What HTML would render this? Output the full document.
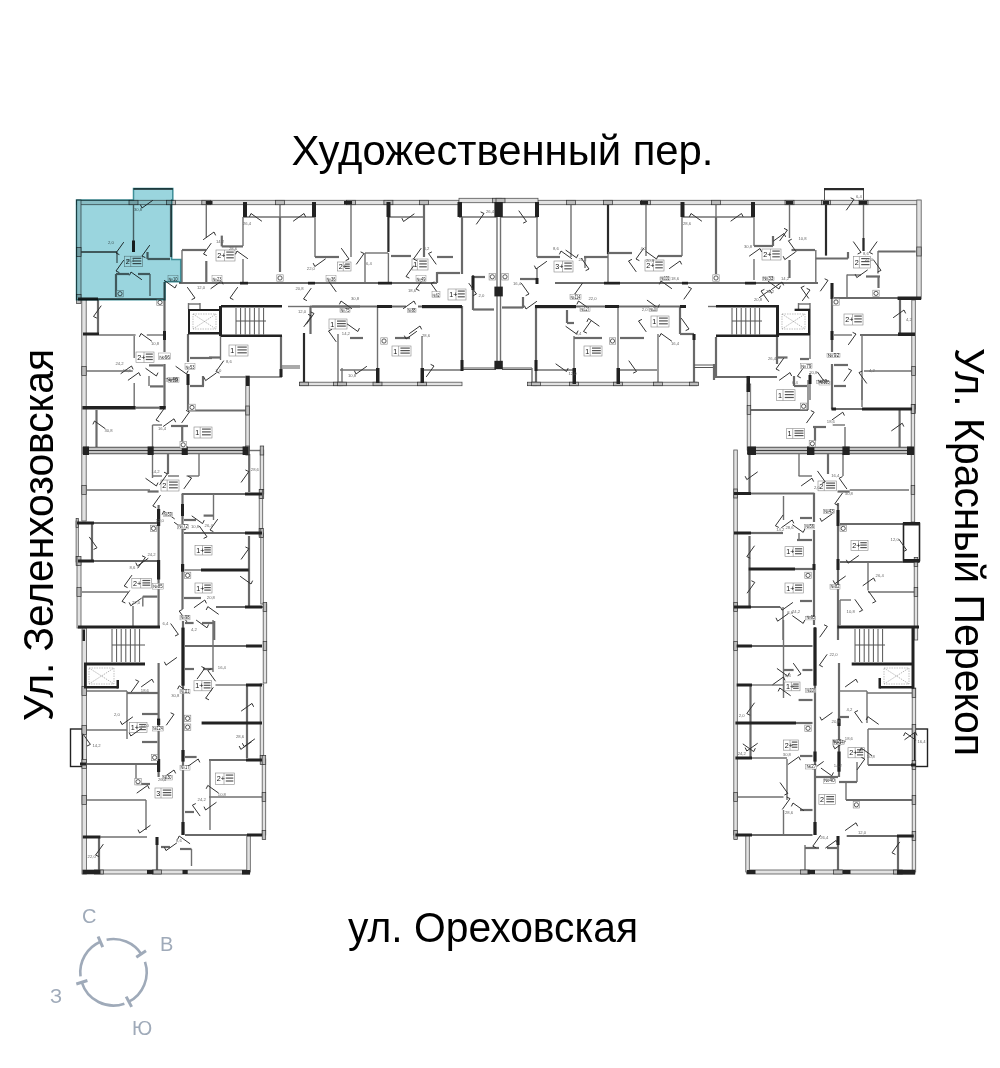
<!DOCTYPE html>
<html><head><meta charset="utf-8">
<style>
html,body{margin:0;padding:0;background:#fff;width:1000px;height:1068px;overflow:hidden}
svg{position:absolute;left:0;top:0;display:block}
text{font-family:"Liberation Sans",sans-serif}
.lbl{font-size:42.5px;fill:#000}
.cmp{font-size:20px;fill:#9FAAB9}
.o{fill:#e2e2e2;stroke:#555;stroke-width:0.8}
.pr{fill:#bdbdbd;stroke:#333;stroke-width:0.7}
.w{stroke:#6a6a6a;stroke-width:2.2;fill:none}
.p{stroke:#707070;stroke-width:1.4;fill:none}
.d{stroke:#2a2a2a;stroke-width:2.2;fill:none}
.t{stroke:#555;stroke-width:1;fill:none}
.x{stroke:#888;stroke-width:0.6;fill:none;stroke-dasharray:1.5 1}
.k{fill:#222}
#bld rect.o{fill:#e2e2e2}
#bld rect.lb{fill:#fff;stroke:#888;stroke-width:0.6}
#bld rect.no{fill:none;stroke:#888;stroke-width:0.6}
.dr{fill:none;stroke:#333;stroke-width:0.8}
.n{font-size:7.2px;fill:#111}
.a{font-size:4.2px;fill:#666}
#bld rect.nb{fill:#fff;stroke:#777;stroke-width:0.4}
.nt{font-size:4.6px;fill:#222}
</style></head><body>
<svg width="1000" height="1068" viewBox="0 0 1000 1068">
<!-- street labels -->
<text class="lbl" x="291.5" y="165" textLength="422" lengthAdjust="spacingAndGlyphs">Художественный пер.</text>
<text class="lbl" x="348" y="942" textLength="290" lengthAdjust="spacingAndGlyphs">ул. Ореховская</text>
<text class="lbl" transform="translate(52.5,721) rotate(-90)" x="0" y="0" textLength="372" lengthAdjust="spacingAndGlyphs">Ул. Зеленхозовская</text>
<text class="lbl" transform="translate(955,348) rotate(90)" x="0" y="0" textLength="408" lengthAdjust="spacingAndGlyphs">Ул. Красный Перекоп</text>

<!-- compass -->
<g fill="none" stroke="#9FAAB9" stroke-width="2.6">
<path d="M106.6 939.8 A33.2 33.2 0 0 1 141.2 954.0"/>
<path d="M136.3 957.2 L146.0 950.8" stroke-width="3"/>
<path d="M145.0 961.8 A33.2 33.2 0 0 1 128.9 1001.7"/>
<path d="M126.2 996.6 L131.6 1006.9" stroke-width="3"/>
<path d="M124.4 1003.7 A33.2 33.2 0 0 1 81.8 982.3"/>
<path d="M87.4 980.5 L76.3 984.0" stroke-width="3"/>
<path d="M80.5 976.3 A33.2 33.2 0 0 1 100.4 941.8"/>
<path d="M102.7 947.1 L98.1 936.5" stroke-width="3"/>
</g>
<text class="cmp" x="82" y="923">С</text>
<text class="cmp" x="160" y="951">В</text>
<text class="cmp" x="50" y="1003">З</text>
<text class="cmp" x="132" y="1035">Ю</text>

<!-- highlighted apartment -->


<!-- building -->
<g id="bld">
<rect class="o" x="76.5" y="200.3" width="382.5" height="4.4"/>
<rect class="o" x="538.0" y="200.3" width="382.0" height="4.4"/>
<rect class="o" x="459.0" y="198.3" width="79.0" height="4.4"/>
<path class="t" d="M824.5 188.6L824.5 200"/>
<path class="t" d="M863.5 188.6L863.5 200"/>
<path class="d" d="M824 189.2L864 189.2"/>
<path class="w" d="M133.5 189L172.8 189"/>
<path class="p" d="M243 217L315 217"/>
<path class="p" d="M280 203L280 217"/>
<path class="p" d="M388 217L424 217"/>
<path class="p" d="M459 217L497 217"/>
<path class="p" d="M500.5 217L538 217"/>
<path class="p" d="M682 217L754 217"/>
<path class="p" d="M716 203L716 217"/>
<rect class="o" x="76.6" y="200.0" width="4.4" height="99.0"/>
<path class="p" d="M133.5 205L133.5 252"/>
<path class="w" d="M81 252L117 252"/>
<path class="p" d="M117 252L117 263"/>
<path class="w" d="M147.5 252L147.5 259"/>
<path class="w" d="M147.5 259L170 259"/>
<path class="w" d="M116 274L116 297"/>
<path class="w" d="M116 274L129 274"/>
<path class="w" d="M138 274L150 274"/>
<path class="p" d="M150 274L150 296"/>
<path class="w" d="M76.5 299L165 299"/>
<path class="w" d="M171 200L171 257"/>
<path class="w" d="M182 250L206 250"/>
<path class="p" d="M182 250L182 283"/>
<path class="p" d="M206.3 205L206.3 237.7"/>
<path class="w" d="M206.3 261L206.3 283"/>
<path class="w" d="M221.8 235.6L221.8 246.4"/>
<path class="w" d="M221.8 246.4L243 246.4"/>
<path class="p" d="M243 217L243 246"/>
<path class="p" d="M243 259L243 283"/>
<path class="w" d="M280 217L280 272"/>
<path class="p" d="M315 217L315 257"/>
<path class="w" d="M315 257L339 257"/>
<path class="p" d="M351 203L351 257"/>
<path class="p" d="M365 253L365 283"/>
<path class="p" d="M365 253L388 253"/>
<path class="d" d="M388.4 200L388.4 252"/>
<path class="p" d="M388.4 253L388.4 283"/>
<path class="w" d="M391 256L411 256"/>
<path class="w" d="M424 203L424 257"/>
<path class="w" d="M437 257L453 257"/>
<path class="w" d="M437 272L437 283"/>
<path class="w" d="M437 273L460 273"/>
<path class="w" d="M462 217L462 274"/>
<path class="p" d="M497 198L497 369"/>
<path class="p" d="M500.5 198L500.5 369"/>
<path class="p" d="M537 217L537 257"/>
<path class="w" d="M537 257L560 257"/>
<path class="p" d="M537 268L537 284"/>
<path class="w" d="M474 277L485 277"/>
<path class="w" d="M520 279L538 279"/>
<path class="p" d="M571 203L571 257"/>
<path class="p" d="M585 258L585 268"/>
<path class="w" d="M584 257L608 257"/>
<path class="d" d="M608 203L608 254"/>
<path class="p" d="M608 254L608 282"/>
<path class="w" d="M608 253L632 253"/>
<path class="p" d="M646 203L646 256"/>
<path class="w" d="M658 256L682 256"/>
<path class="p" d="M682 217L682 256"/>
<path class="w" d="M716 217L716 274"/>
<path class="p" d="M754 217L754 246"/>
<path class="w" d="M754 246L773 246"/>
<path class="w" d="M773 236L773 246"/>
<path class="p" d="M754 259L754 280"/>
<path class="p" d="M789.5 203L789.5 238"/>
<path class="w" d="M789.5 260L789.5 278"/>
<path class="w" d="M791.5 250L815 250"/>
<path class="p" d="M815.8 250L815.8 283.5"/>
<path class="d" d="M826 203L826 255.6"/>
<path class="w" d="M815.8 258.5L848 258.5"/>
<path class="w" d="M848 252L848 258.5"/>
<path class="p" d="M863.5 203L863.5 251"/>
<path class="d" d="M863.5 238L863.5 251"/>
<path class="w" d="M878 251.5L915.7 251.5"/>
<path class="p" d="M878 251L878 273.6"/>
<path class="p" d="M847 275L861 275"/>
<path class="p" d="M847 274.5L847 297"/>
<path class="w" d="M866 276.5L880 276.5"/>
<path class="w" d="M878.5 276L878.5 288"/>
<rect class="o" x="916.8" y="200.0" width="4.4" height="99.0"/>
<path class="w" d="M900 300L900 334"/>
<rect class="o" x="911.8" y="300.0" width="3.5" height="109.0"/>
<path class="w" d="M179 283L437 283"/>
<path class="w" d="M555 283L818 283"/>
<path class="w" d="M310 306.5L406 306.5"/>
<path class="w" d="M418 306.5L462 306.5"/>
<path class="w" d="M535 306.5L686 306.5"/>
<path class="p" d="M288 306.5L310 306.5"/>
<path class="p" d="M708 306.5L716 306.5"/>
<path class="p" d="M188 304L200 304"/>
<path class="p" d="M188.5 303L188.5 309"/>
<path class="p" d="M200 303L200 309"/>
<path class="t" d="M236 308L236 334.5"/>
<path class="t" d="M240.6 308L240.6 334.5"/>
<path class="t" d="M245.2 308L245.2 334.5"/>
<path class="t" d="M249.8 308L249.8 334.5"/>
<path class="t" d="M254.4 308L254.4 334.5"/>
<path class="t" d="M259 308L259 334.5"/>
<path class="t" d="M263.6 308L263.6 334.5"/>
<path class="t" d="M236 321L266 321"/>
<path class="x" d="M193 314L216 329"/>
<path class="x" d="M193 329L216 314"/>
<rect x="193" y="314" width="23" height="15" fill="none" stroke="#999" stroke-width="0.6" stroke-dasharray="1.5 1"/>
<path class="w" d="M281 336L281 377"/>
<path class="p" d="M220 377L282 377"/>
<path class="d" d="M304 333L304 384"/>
<rect class="o" x="300.0" y="382.2" width="40.0" height="3.5"/>
<path class="w" d="M310.5 306L310.5 334"/>
<path class="w" d="M312 306.5L360 306.5"/>
<path class="p" d="M338 334L338 384"/>
<path class="t" d="M282 366L300 366"/>
<path class="t" d="M282 368L300 368"/>
<path class="p" d="M377.5 306L377.5 383"/>
<path class="p" d="M422 336L422 383"/>
<path class="w" d="M462 306L462 371"/>
<path class="w" d="M350 338L363 338"/>
<path class="w" d="M395 338L410 338"/>
<path class="p" d="M340 370L376 370"/>
<path class="p" d="M424 370L461 370"/>
<rect class="o" x="340.0" y="382.2" width="122.0" height="3.5"/>
<path class="p" d="M342 368L342 384"/>
<path class="t" d="M462 368L496 368"/>
<path class="t" d="M462 369.5L496 369.5"/>
<path class="t" d="M502 368L532 368"/>
<path class="t" d="M502 369.5L532 369.5"/>
<path class="w" d="M473 275L473 310"/>
<path class="w" d="M473 309.5L494 309.5"/>
<path class="w" d="M502 307.5L523 307.5"/>
<path class="w" d="M523 297L523 308"/>
<path class="p" d="M532 368L532 384"/>
<path class="w" d="M536 306L536 384"/>
<path class="p" d="M574 336L574 384"/>
<path class="p" d="M618 306L618 384"/>
<path class="p" d="M658 334L658 384"/>
<path class="w" d="M680 306L680 334"/>
<path class="w" d="M680 334L694 334"/>
<path class="w" d="M694 334L694 384"/>
<path class="t" d="M694 365L714 365"/>
<path class="t" d="M694 367.5L714 367.5"/>
<path class="w" d="M714 364L714 380"/>
<path class="w" d="M574 338L602 338"/>
<path class="w" d="M620 338L644 338"/>
<path class="w" d="M567 310L567 323"/>
<path class="w" d="M567 323L574 323"/>
<path class="p" d="M536 370L573 370"/>
<path class="p" d="M620 370L657 370"/>
<rect class="o" x="533.0" y="382.2" width="164.0" height="3.5"/>
<path class="t" d="M732 308L732 334.5"/>
<path class="t" d="M736.6 308L736.6 334.5"/>
<path class="t" d="M741.2 308L741.2 334.5"/>
<path class="t" d="M745.8 308L745.8 334.5"/>
<path class="t" d="M750.4 308L750.4 334.5"/>
<path class="t" d="M755 308L755 334.5"/>
<path class="t" d="M759.6 308L759.6 334.5"/>
<path class="t" d="M732 321L762 321"/>
<path class="x" d="M782 314L805 329"/>
<path class="x" d="M782 329L805 314"/>
<rect x="782" y="314" width="23" height="15" fill="none" stroke="#999" stroke-width="0.6" stroke-dasharray="1.5 1"/>
<path class="p" d="M798 304L810 304"/>
<path class="p" d="M798.5 303L798.5 309"/>
<path class="p" d="M810 303L810 309"/>
<path class="w" d="M716 337L716 378"/>
<path class="w" d="M714 377L777 377"/>
<path class="w" d="M777 337L777 364"/>
<path class="w" d="M777 357.5L787.5 357.5"/>
<path class="w" d="M794 376L794 386"/>
<path class="w" d="M794 386L807 386"/>
<path class="w" d="M800 359L809 359"/>
<path class="p" d="M810 335L810 359"/>
<path class="p" d="M810 373L810 400"/>
<path class="w" d="M832 283L832 352"/>
<path class="w" d="M832 364L832 409"/>
<path class="w" d="M834 298L898 298"/>
<path class="p" d="M834 335L852 335"/>
<path class="w" d="M860 335L898 335"/>
<path class="p" d="M862 335L862 400"/>
<path class="w" d="M834 365L848 365"/>
<path class="w" d="M834 386L846 386"/>
<path class="p" d="M864 371L912 371"/>
<rect class="o" x="81.8" y="299.0" width="4.4" height="222.0"/>
<rect class="o" x="76.1" y="521.0" width="2.2" height="41.0"/>
<rect class="o" x="77.0" y="562.0" width="4.0" height="66.0"/>
<rect class="o" x="82.0" y="628.0" width="4.4" height="246.0"/>
<path class="w" d="M98 299L98 334"/>
<path class="p" d="M99 335L135.6 335"/>
<path class="p" d="M146.8 335L163.6 335"/>
<path class="w" d="M164.5 282L164.5 352"/>
<path class="w" d="M164.5 364L164.5 408"/>
<path class="p" d="M134.2 336L134.2 358"/>
<path class="p" d="M134.2 383L134.2 406"/>
<path class="p" d="M86.6 371L132.8 371"/>
<path class="w" d="M149 365.4L163.6 365.4"/>
<path class="p" d="M149 376L149 386"/>
<path class="w" d="M150 386.4L163.6 386.4"/>
<path class="w" d="M135.6 407.7L159.4 407.7"/>
<path class="w" d="M188 334L188 362"/>
<path class="w" d="M188 374L188 410"/>
<path class="w" d="M209 357.5L220 357.5"/>
<path class="w" d="M203 376L203 386"/>
<path class="w" d="M190 386L204 386"/>
<path class="p" d="M220.5 336L220.5 360"/>
<path class="w" d="M190 358L212 358"/>
<rect class="o" x="245.8" y="376.0" width="3.5" height="74.0"/>
<path class="w" d="M188 410.5L246 410.5"/>
<path class="w" d="M96.5 410L96.5 447"/>
<path class="p" d="M152.5 425L152.5 449"/>
<path class="p" d="M152.5 425L162 425"/>
<path class="w" d="M171 426L188 426"/>
<path class="w" d="M182.2 426L182.2 445.6"/>
<rect x="83" y="447.2" width="165.7" height="6.6" fill="#c4c4c4" stroke="#2e2e2e" stroke-width="0.8"/>
<path d="M83 450.5H248.7" stroke="#2e2e2e" stroke-width="0.9"/>
<rect class="o" x="260.2" y="450.0" width="3.5" height="44.0"/>
<path class="p" d="M248 450.5L262 450.5"/>
<path class="w" d="M249.2 454L249.2 492"/>
<path class="p" d="M152.5 454L152.5 478"/>
<path class="w" d="M168 454L168 474"/>
<path class="p" d="M199 454L199 476"/>
<path class="p" d="M152.5 476L162 476"/>
<path class="p" d="M168 476L179 476"/>
<path class="p" d="M186.6 476L199 476"/>
<path class="p" d="M86.8 490L150 490"/>
<path class="w" d="M147.6 491.5L158.6 491.5"/>
<path class="w" d="M181.7 494L262 494"/>
<path class="w" d="M182.5 494L182.5 609"/>
<path class="w" d="M158.6 505L158.6 626"/>
<path class="w" d="M77 523L158.6 523"/>
<path class="w" d="M92 523L92 560"/>
<rect class="o" x="259.2" y="494.0" width="3.5" height="42.0"/>
<path class="w" d="M78 561L157.4 561"/>
<path class="p" d="M82 592L128 592"/>
<path class="w" d="M142.8 596.6L157.4 596.6"/>
<path class="p" d="M142.8 596.6L142.8 606.4"/>
<path class="p" d="M133 606L133 626"/>
<path class="p" d="M213.5 494L213.5 520"/>
<path class="w" d="M203.6 515.6L213.4 515.6"/>
<path class="w" d="M184 533L262 533"/>
<path class="w" d="M249 536L249 606"/>
<rect class="o" x="260.8" y="533.0" width="2.5" height="71.0"/>
<path class="p" d="M184.5 570L201.4 570"/>
<path class="w" d="M184 598L201 598"/>
<path class="w" d="M216 607L267 607"/>
<path class="w" d="M214.2 621L214.2 640"/>
<path class="w" d="M185 623L193.6 623"/>
<path class="w" d="M202 623L214.4 623"/>
<path class="w" d="M184 520L196 520"/>
<path class="t" d="M112 629L112 662"/>
<path class="t" d="M116.6 629L116.6 662"/>
<path class="t" d="M121.2 629L121.2 662"/>
<path class="t" d="M125.8 629L125.8 662"/>
<path class="t" d="M130.4 629L130.4 662"/>
<path class="t" d="M135 629L135 662"/>
<path class="t" d="M139.6 629L139.6 662"/>
<path class="t" d="M112 645L145 645"/>
<path class="x" d="M89 668L114 684"/>
<path class="x" d="M89 684L114 668"/>
<rect x="89" y="668" width="25" height="16" fill="none" stroke="#999" stroke-width="0.6" stroke-dasharray="1.5 1"/>
<path class="w" d="M158.6 663L158.6 777"/>
<path class="w" d="M183 621L183 835"/>
<path class="p" d="M85 691L127 691"/>
<path class="p" d="M127 691L127 739"/>
<path class="w" d="M127 693L158.6 693"/>
<path class="w" d="M142 714L158.6 714"/>
<path class="p" d="M86.5 730L127 730"/>
<path class="w" d="M142 742L157.4 742"/>
<rect x="70.5" y="729" width="12" height="37.5" fill="none" stroke="#222" stroke-width="1.4"/>
<path class="w" d="M84 764L158.6 764"/>
<path class="p" d="M136 765L136 784"/>
<path class="w" d="M136 784L150 784"/>
<path class="p" d="M86.5 800L146 800"/>
<path class="p" d="M146 800L146 830"/>
<path class="p" d="M100.5 837L147 837"/>
<path class="w" d="M99 837L99 870"/>
<rect class="o" x="82.8" y="870.0" width="166.9" height="4.0"/>
<path class="w" d="M157 837L157 872"/>
<path class="p" d="M191.5 849L191.5 866"/>
<path class="w" d="M180 849L191.5 849"/>
<rect class="o" x="263.2" y="604.0" width="3.5" height="79.0"/>
<path class="w" d="M185 646L262 646"/>
<path class="p" d="M213 620L213 672"/>
<path class="w" d="M185 669L194 669"/>
<path class="w" d="M203 669L213 669"/>
<path class="p" d="M215.5 685L246 685"/>
<path class="w" d="M247 686L247 758"/>
<rect class="o" x="260.2" y="684.0" width="3.5" height="75.0"/>
<path class="w" d="M209 760L262 760"/>
<path class="w" d="M185 757L196.6 757"/>
<path class="p" d="M210 760L210 830"/>
<path class="p" d="M209 797L262 797"/>
<rect class="o" x="262.2" y="759.0" width="3.5" height="76.0"/>
<path class="w" d="M185 835L262 835"/>
<path class="w" d="M185 812L194 812"/>
<rect class="o" x="246.8" y="835.0" width="3.5" height="37.0"/>
<rect class="o" x="747.2" y="384.0" width="3.5" height="66.0"/>
<rect class="o" x="733.8" y="450.0" width="3.5" height="385.0"/>
<path class="p" d="M808 380L808 410"/>
<path class="p" d="M862 380L862 407"/>
<path class="w" d="M747.5 410L808 410"/>
<path class="w" d="M831.5 409L912 409"/>
<path class="p" d="M845 427L845 450"/>
<path class="p" d="M832.7 425L845 425"/>
<path class="w" d="M813 427L826 427"/>
<path class="w" d="M815 427L815 441"/>
<path class="w" d="M899.6 409L899.6 450"/>
<rect x="747.5" y="447.2" width="166.5" height="6.6" fill="#c4c4c4" stroke="#2e2e2e" stroke-width="0.8"/>
<path d="M747.5 450.5H914" stroke="#2e2e2e" stroke-width="0.9"/>
<rect class="o" x="911.2" y="409.0" width="3.5" height="113.0"/>
<path class="w" d="M749.5 454L749.5 492"/>
<path class="p" d="M799 453L799 476"/>
<path class="p" d="M798.6 476L812 476"/>
<path class="w" d="M828 453L828 474"/>
<path class="p" d="M843 453L843 476"/>
<path class="p" d="M849.7 490L909 490"/>
<path class="w" d="M837.5 491.5L849.7 491.5"/>
<path class="w" d="M734 493.5L814.4 493.5"/>
<path class="w" d="M814 493L814 522"/>
<path class="p" d="M783.5 496L783.5 520"/>
<path class="w" d="M800 518L812 518"/>
<path class="w" d="M838 503L838 640"/>
<path class="w" d="M814 530L814 625"/>
<path class="w" d="M751 533L783 533"/>
<path class="w" d="M797 540L812 540"/>
<path class="p" d="M799 533L799 540"/>
<path class="w" d="M840 524L904.5 524"/>
<rect x="903.5" y="523.5" width="16" height="37" fill="none" stroke="#222" stroke-width="1.6"/>
<path class="w" d="M795 569L813 569"/>
<path class="w" d="M749.5 536L749.5 606"/>
<path class="w" d="M840 562L919 562"/>
<path class="p" d="M868 562L868 590"/>
<path class="p" d="M868 592L916.6 592"/>
<rect class="o" x="914.2" y="562.0" width="3.5" height="78.0"/>
<path class="w" d="M800 601L812 601"/>
<path class="w" d="M734 607L780 607"/>
<path class="p" d="M783 607L783 640"/>
<path class="p" d="M840 600L840 625"/>
<path class="p" d="M840 600L851 600"/>
<path class="w" d="M815 627L815 835"/>
<path class="w" d="M839 663L839 777"/>
<path class="t" d="M855 629L855 662"/>
<path class="t" d="M859.6 629L859.6 662"/>
<path class="t" d="M864.2 629L864.2 662"/>
<path class="t" d="M868.8 629L868.8 662"/>
<path class="t" d="M873.4 629L873.4 662"/>
<path class="t" d="M878 629L878 662"/>
<path class="t" d="M882.6 629L882.6 662"/>
<path class="t" d="M855 645L885 645"/>
<path class="x" d="M884 668L909 684"/>
<path class="x" d="M884 684L909 668"/>
<rect x="884" y="668" width="25" height="16" fill="none" stroke="#999" stroke-width="0.6" stroke-dasharray="1.5 1"/>
<rect class="o" x="912.2" y="688.0" width="3.5" height="184.0"/>
<path class="p" d="M839 691L867 691"/>
<path class="p" d="M867 693L912 693"/>
<path class="p" d="M867 691L867 723"/>
<path class="w" d="M839 717L849 717"/>
<path class="p" d="M868 729L912.4 729"/>
<rect x="914.5" y="729" width="13" height="37.5" fill="none" stroke="#222" stroke-width="1.4"/>
<path class="p" d="M868 729L868 765"/>
<path class="w" d="M868 765L915 765"/>
<path class="p" d="M846 782L846 800"/>
<path class="w" d="M839 782L857 782"/>
<path class="p" d="M857 762L857 782"/>
<path class="w" d="M846 800L912.4 800"/>
<path class="w" d="M846.7 836L913.7 836"/>
<path class="w" d="M898 837L898 870"/>
<rect class="o" x="746.8" y="870.0" width="168.2" height="4.0"/>
<path class="w" d="M838 836L838 872"/>
<path class="p" d="M805 845L805 870"/>
<path class="w" d="M805 848L819 848"/>
<rect class="o" x="745.8" y="835.0" width="3.5" height="37.0"/>
<path class="w" d="M736.7 646L812.5 646"/>
<path class="p" d="M783.5 620L783.5 698"/>
<path class="w" d="M783.5 670L793.6 670"/>
<path class="w" d="M802.4 670L812.5 670"/>
<path class="p" d="M752 685L783.5 685"/>
<path class="w" d="M750.5 686L750.5 758"/>
<path class="w" d="M796 723L812.5 723"/>
<path class="w" d="M798.6 700L812.5 700"/>
<path class="p" d="M752 758L787 758"/>
<path class="w" d="M800 756L812.5 756"/>
<path class="p" d="M787 759L787 800"/>
<path class="p" d="M738 797L783.5 797"/>
<path class="p" d="M783.5 810L783.5 835"/>
<path class="w" d="M800 810L812.5 810"/>
<path class="w" d="M735.4 835L812.5 835"/>
<path class="w" d="M815 777L838 777"/>
<path class="w" d="M161 847L170 847"/>
<path class="w" d="M827 848L838 848"/>
<rect class="pr" x="275.5" y="200.3" width="9" height="4.4"/>
<rect class="pr" x="711.5" y="200.3" width="9" height="4.4"/>
<rect class="pr" x="129.0" y="200.3" width="9" height="4.4"/>
<rect class="pr" x="76.6" y="247.5" width="4.4" height="9"/>
<rect class="pr" x="76.6" y="294.5" width="4.4" height="9"/>
<rect class="pr" x="166.5" y="200.3" width="9" height="4.4"/>
<rect class="pr" x="201.8" y="200.3" width="9" height="4.4"/>
<rect class="pr" x="346.5" y="200.3" width="9" height="4.4"/>
<rect class="pr" x="383.9" y="200.3" width="9" height="4.4"/>
<rect class="pr" x="419.5" y="200.3" width="9" height="4.4"/>
<rect class="pr" x="492.5" y="198.3" width="9" height="4.4"/>
<rect class="pr" x="496.0" y="198.3" width="9" height="4.4"/>
<rect class="pr" x="566.5" y="200.3" width="9" height="4.4"/>
<rect class="pr" x="603.5" y="200.3" width="9" height="4.4"/>
<rect class="pr" x="641.5" y="200.3" width="9" height="4.4"/>
<rect class="pr" x="785.0" y="200.3" width="9" height="4.4"/>
<rect class="pr" x="821.5" y="200.3" width="9" height="4.4"/>
<rect class="pr" x="859.0" y="200.3" width="9" height="4.4"/>
<rect class="pr" x="916.8" y="247.0" width="4.4" height="9"/>
<rect class="pr" x="299.5" y="382.2" width="9" height="3.5"/>
<rect class="pr" x="333.5" y="382.2" width="9" height="3.5"/>
<rect class="pr" x="373.0" y="382.2" width="9" height="3.5"/>
<rect class="pr" x="417.5" y="382.2" width="9" height="3.5"/>
<rect class="pr" x="337.5" y="382.2" width="9" height="3.5"/>
<rect class="pr" x="527.5" y="382.2" width="9" height="3.5"/>
<rect class="pr" x="531.5" y="382.2" width="9" height="3.5"/>
<rect class="pr" x="569.5" y="382.2" width="9" height="3.5"/>
<rect class="pr" x="613.5" y="382.2" width="9" height="3.5"/>
<rect class="pr" x="653.5" y="382.2" width="9" height="3.5"/>
<rect class="pr" x="689.5" y="382.2" width="9" height="3.5"/>
<rect class="pr" x="911.8" y="366.5" width="3.5" height="9"/>
<rect class="pr" x="81.8" y="366.5" width="4.4" height="9"/>
<rect class="pr" x="245.8" y="406.0" width="3.5" height="9"/>
<rect class="pr" x="245.8" y="446.0" width="3.5" height="9"/>
<rect class="pr" x="260.2" y="446.0" width="3.5" height="9"/>
<rect class="pr" x="81.8" y="485.5" width="4.4" height="9"/>
<rect class="pr" x="260.2" y="489.5" width="3.5" height="9"/>
<rect class="pr" x="259.2" y="489.5" width="3.5" height="9"/>
<rect class="pr" x="76.1" y="518.5" width="2.2" height="9"/>
<rect class="pr" x="76.1" y="556.5" width="2.2" height="9"/>
<rect class="pr" x="77.0" y="556.5" width="4.0" height="9"/>
<rect class="pr" x="77.0" y="587.5" width="4.0" height="9"/>
<rect class="pr" x="259.2" y="528.5" width="3.5" height="9"/>
<rect class="pr" x="260.8" y="528.5" width="2.5" height="9"/>
<rect class="pr" x="263.2" y="602.5" width="3.5" height="9"/>
<rect class="pr" x="82.0" y="686.5" width="4.4" height="9"/>
<rect class="pr" x="82.0" y="725.5" width="4.4" height="9"/>
<rect class="pr" x="82.0" y="759.5" width="4.4" height="9"/>
<rect class="pr" x="82.0" y="795.5" width="4.4" height="9"/>
<rect class="pr" x="94.5" y="870.0" width="9" height="4.0"/>
<rect class="pr" x="152.5" y="870.0" width="9" height="4.0"/>
<rect class="pr" x="263.2" y="641.5" width="3.5" height="9"/>
<rect class="pr" x="260.2" y="755.5" width="3.5" height="9"/>
<rect class="pr" x="262.2" y="755.5" width="3.5" height="9"/>
<rect class="pr" x="262.2" y="792.5" width="3.5" height="9"/>
<rect class="pr" x="262.2" y="830.5" width="3.5" height="9"/>
<rect class="pr" x="747.2" y="405.5" width="3.5" height="9"/>
<rect class="pr" x="911.8" y="404.5" width="3.5" height="9"/>
<rect class="pr" x="911.2" y="404.5" width="3.5" height="9"/>
<rect class="pr" x="911.2" y="485.5" width="3.5" height="9"/>
<rect class="pr" x="733.8" y="489.0" width="3.5" height="9"/>
<rect class="pr" x="914.2" y="557.5" width="3.5" height="9"/>
<rect class="pr" x="914.2" y="587.5" width="3.5" height="9"/>
<rect class="pr" x="733.8" y="602.5" width="3.5" height="9"/>
<rect class="pr" x="912.2" y="688.5" width="3.5" height="9"/>
<rect class="pr" x="912.2" y="724.5" width="3.5" height="9"/>
<rect class="pr" x="912.2" y="760.5" width="3.5" height="9"/>
<rect class="pr" x="912.2" y="795.5" width="3.5" height="9"/>
<rect class="pr" x="912.2" y="831.5" width="3.5" height="9"/>
<rect class="pr" x="893.5" y="870.0" width="9" height="4.0"/>
<rect class="pr" x="833.5" y="870.0" width="9" height="4.0"/>
<rect class="pr" x="800.5" y="870.0" width="9" height="4.0"/>
<rect class="pr" x="733.8" y="641.5" width="3.5" height="9"/>
<rect class="pr" x="733.8" y="792.5" width="3.5" height="9"/>
<rect class="pr" x="733.8" y="830.5" width="3.5" height="9"/>
<rect class="k" x="205.8" y="201" width="6.7" height="3.5"/>
<rect class="k" x="344" y="201" width="8" height="3.5"/>
<rect class="k" x="640" y="201" width="8" height="3.5"/>
<rect class="k" x="786" y="201" width="7" height="3.5"/>
<rect class="k" x="823" y="201" width="6" height="3.5"/>
<rect class="k" x="859" y="201" width="8" height="3.5"/>
<rect class="k" x="243" y="202" width="4" height="15"/>
<rect class="k" x="312" y="202" width="4" height="15"/>
<rect class="k" x="457.5" y="202" width="4.5" height="15"/>
<rect class="k" x="535" y="202" width="4" height="15"/>
<rect class="k" x="680.5" y="202" width="4" height="15"/>
<rect class="k" x="751" y="202" width="4" height="15"/>
<rect class="k" x="386.5" y="202" width="4" height="15"/>
<rect class="k" x="132" y="240.5" width="3" height="11.5"/>
<rect class="k" x="78" y="297.5" width="20" height="3"/>
<rect class="k" x="494.4" y="202" width="8.4" height="15"/>
<rect class="k" x="494.4" y="286.6" width="8.4" height="9.8"/>
<rect class="k" x="494.4" y="360.8" width="8.4" height="8.4"/>
<rect class="k" x="535.5" y="278" width="3" height="6"/>
<rect class="k" x="897.6" y="296.5" width="23.4" height="3.5"/>
<rect class="k" x="898" y="332.5" width="17" height="3.5"/>
<rect class="k" x="240" y="281.8" width="8" height="2.7"/>
<rect class="k" x="308" y="281.8" width="7" height="2.7"/>
<rect class="k" x="378" y="281.8" width="14" height="2.7"/>
<rect class="k" x="604" y="281.8" width="16" height="2.7"/>
<rect class="k" x="682" y="281.8" width="6" height="2.7"/>
<rect class="k" x="745" y="281.8" width="11" height="2.7"/>
<rect class="k" x="377" y="305" width="15" height="3"/>
<rect class="k" x="422" y="305" width="40" height="3.2"/>
<rect class="k" x="535" y="305" width="41" height="3.2"/>
<rect class="k" x="605" y="305" width="14" height="3"/>
<rect class="k" x="680" y="305" width="6" height="3"/>
<rect class="k" x="188" y="309" width="33" height="2"/>
<rect class="k" x="188" y="309" width="2" height="25"/>
<rect class="k" x="188" y="332" width="33" height="2.5"/>
<rect class="k" x="219" y="306" width="3" height="30"/>
<rect class="k" x="221" y="305" width="61" height="2.5"/>
<rect class="k" x="221" y="334.5" width="61" height="2.5"/>
<rect class="k" x="279.5" y="369" width="3" height="8"/>
<rect class="k" x="376" y="368" width="3.5" height="15"/>
<rect class="k" x="420.5" y="368" width="3.5" height="15"/>
<rect class="k" x="460.5" y="360" width="3" height="11"/>
<rect class="k" x="471.5" y="276" width="3" height="14"/>
<rect class="k" x="534.5" y="360" width="3" height="11"/>
<rect class="k" x="572.5" y="368" width="3.5" height="16"/>
<rect class="k" x="616.5" y="368" width="3.5" height="16"/>
<rect class="k" x="692.5" y="334" width="3" height="6"/>
<rect class="k" x="716" y="305" width="61" height="2.5"/>
<rect class="k" x="716" y="334.5" width="61" height="2.5"/>
<rect class="k" x="776" y="305" width="3" height="32"/>
<rect class="k" x="794.6" y="308.7" width="15.4" height="2.3"/>
<rect class="k" x="808" y="309" width="2.5" height="26"/>
<rect class="k" x="777" y="333" width="33" height="2.5"/>
<rect class="k" x="808.5" y="375" width="3" height="9"/>
<rect class="k" x="746.5" y="376" width="3.5" height="16"/>
<rect class="k" x="830.5" y="283" width="3" height="16"/>
<rect class="k" x="830.5" y="331" width="3" height="9"/>
<rect class="k" x="83" y="332.5" width="16" height="3"/>
<rect class="k" x="163" y="331" width="3" height="9"/>
<rect class="k" x="82.4" y="406" width="53.2" height="3.5"/>
<rect class="k" x="159.4" y="406" width="6.3" height="3.5"/>
<rect class="k" x="186.5" y="374" width="3" height="11"/>
<rect class="k" x="246" y="376" width="3.5" height="10"/>
<rect class="k" x="83" y="446.5" width="6" height="8.5"/>
<rect class="k" x="147.6" y="446.5" width="6.1" height="8.5"/>
<rect class="k" x="181.7" y="446.5" width="6.1" height="8.5"/>
<rect class="k" x="242.6" y="446.5" width="6.1" height="8.5"/>
<rect class="k" x="245" y="492.5" width="17" height="3"/>
<rect class="k" x="181" y="504" width="3" height="12"/>
<rect class="k" x="181" y="564" width="3.2" height="7.7"/>
<rect class="k" x="157" y="509" width="3.2" height="17"/>
<rect class="k" x="157" y="560" width="3.2" height="19.5"/>
<rect class="k" x="77" y="521.5" width="17" height="3"/>
<rect class="k" x="78" y="559.5" width="16" height="3"/>
<rect class="k" x="78" y="625.5" width="82" height="3"/>
<rect class="k" x="82.5" y="629.5" width="2.5" height="11.5"/>
<rect class="k" x="245" y="531.5" width="17" height="3"/>
<rect class="k" x="201" y="568.5" width="47.7" height="3"/>
<rect class="k" x="245" y="605.5" width="17" height="3"/>
<rect class="k" x="84" y="662.5" width="61" height="3"/>
<rect class="k" x="84" y="663" width="2.5" height="25"/>
<rect class="k" x="84" y="686" width="34" height="2.5"/>
<rect class="k" x="116.5" y="680" width="2.5" height="8.5"/>
<rect class="k" x="157" y="718.6" width="3.2" height="6.4"/>
<rect class="k" x="157" y="759" width="3.2" height="13"/>
<rect class="k" x="181.4" y="627.6" width="3.2" height="58.1"/>
<rect class="k" x="181.4" y="750" width="3.2" height="11.6"/>
<rect class="k" x="181.4" y="822" width="3.2" height="13"/>
<rect class="k" x="80" y="762.5" width="6" height="3"/>
<rect class="k" x="82.8" y="835.5" width="17.7" height="3"/>
<rect class="k" x="82.8" y="870" width="17.7" height="4"/>
<rect class="k" x="147" y="870" width="6.5" height="4"/>
<rect class="k" x="182.5" y="870" width="5.2" height="4"/>
<rect class="k" x="155.5" y="837" width="3" height="8"/>
<rect class="k" x="246" y="644.5" width="16" height="3"/>
<rect class="k" x="246" y="683.5" width="16" height="3"/>
<rect class="k" x="201.6" y="721.5" width="60.4" height="3"/>
<rect class="k" x="246" y="758.5" width="16" height="3"/>
<rect class="k" x="247" y="833.5" width="15" height="3"/>
<rect class="k" x="862" y="407.5" width="50" height="3"/>
<rect class="k" x="831.5" y="407.5" width="4.5" height="3"/>
<rect class="k" x="747.5" y="446.5" width="8.5" height="8.5"/>
<rect class="k" x="807" y="446.5" width="7.4" height="8.5"/>
<rect class="k" x="842.4" y="446.5" width="7.3" height="8.5"/>
<rect class="k" x="907" y="446.5" width="7" height="8.5"/>
<rect class="k" x="734" y="492" width="17" height="3"/>
<rect class="k" x="836.5" y="510" width="3" height="16"/>
<rect class="k" x="836.5" y="559" width="3" height="11"/>
<rect class="k" x="812.5" y="564" width="3" height="6"/>
<rect class="k" x="734" y="531.5" width="17" height="3"/>
<rect class="k" x="903" y="522" width="17" height="3.5"/>
<rect class="k" x="903" y="559" width="17" height="3.5"/>
<rect class="k" x="748.7" y="567.5" width="46.3" height="3"/>
<rect class="k" x="734" y="605.5" width="17" height="3"/>
<rect class="k" x="837.5" y="625.5" width="81.5" height="3"/>
<rect class="k" x="813.4" y="627.6" width="3.2" height="58.1"/>
<rect class="k" x="813.4" y="751.5" width="3.2" height="10.1"/>
<rect class="k" x="813.4" y="822" width="3.2" height="13"/>
<rect class="k" x="837.4" y="718.6" width="3.2" height="7.4"/>
<rect class="k" x="837.4" y="751.5" width="3.2" height="20.2"/>
<rect class="k" x="851.7" y="662.5" width="60.7" height="3"/>
<rect class="k" x="879.6" y="686" width="34.1" height="2.5"/>
<rect class="k" x="878.5" y="678" width="2.5" height="10.5"/>
<rect class="k" x="911.5" y="628" width="3" height="60.5"/>
<rect class="k" x="911" y="763.5" width="5" height="3"/>
<rect class="k" x="897" y="834.5" width="16.7" height="3"/>
<rect class="k" x="746.8" y="870" width="8.7" height="4"/>
<rect class="k" x="807.5" y="870" width="7.5" height="4"/>
<rect class="k" x="843" y="870" width="7.5" height="4"/>
<rect class="k" x="836.5" y="836" width="3" height="9"/>
<rect class="k" x="736.7" y="644.5" width="15.3" height="3"/>
<rect class="k" x="736.7" y="683.5" width="15.3" height="3"/>
<rect class="k" x="735.4" y="721.5" width="60.6" height="3"/>
<rect class="k" x="735.4" y="756.5" width="16.6" height="3"/>
<rect class="k" x="735.4" y="833.5" width="16.6" height="3"/>
<rect class="k" x="242" y="870" width="8" height="4.5"/>
<rect class="k" x="897" y="870" width="18" height="4.5"/>
<rect class="lb" x="216" y="250" width="19" height="11"/>
<path d="M224.5 250V261" stroke="#888" stroke-width="0.6"/>
<rect x="226.3" y="251.5" width="7.5" height="1.2" fill="#555"/>
<rect x="226.3" y="254.3" width="7.5" height="1.2" fill="#555"/>
<rect x="226.3" y="257.2" width="7.5" height="1.2" fill="#555"/>
<rect class="lb" x="337.6" y="262" width="13.4" height="9"/>
<path d="M343.3 262V271" stroke="#888" stroke-width="0.6"/>
<rect x="345.1" y="263.5" width="4.7" height="1.2" fill="#555"/>
<rect x="345.1" y="265.7" width="4.7" height="1.2" fill="#555"/>
<rect x="345.1" y="267.8" width="4.7" height="1.2" fill="#555"/>
<rect class="lb" x="412" y="259" width="16" height="11"/>
<path d="M417.4 259V270" stroke="#888" stroke-width="0.6"/>
<rect x="419.2" y="260.5" width="7.6" height="1.2" fill="#555"/>
<rect x="419.2" y="263.3" width="7.6" height="1.2" fill="#555"/>
<rect x="419.2" y="266.2" width="7.6" height="1.2" fill="#555"/>
<rect class="lb" x="554" y="261" width="19" height="11"/>
<path d="M562.5 261V272" stroke="#888" stroke-width="0.6"/>
<rect x="564.3" y="262.5" width="7.5" height="1.2" fill="#555"/>
<rect x="564.3" y="265.3" width="7.5" height="1.2" fill="#555"/>
<rect x="564.3" y="268.2" width="7.5" height="1.2" fill="#555"/>
<rect class="lb" x="645" y="260" width="19" height="11"/>
<path d="M653.5 260V271" stroke="#888" stroke-width="0.6"/>
<rect x="655.3" y="261.5" width="7.5" height="1.2" fill="#555"/>
<rect x="655.3" y="264.3" width="7.5" height="1.2" fill="#555"/>
<rect x="655.3" y="267.2" width="7.5" height="1.2" fill="#555"/>
<rect class="lb" x="762" y="249" width="19" height="11"/>
<path d="M770.5 249V260" stroke="#888" stroke-width="0.6"/>
<rect x="772.3" y="250.5" width="7.5" height="1.2" fill="#555"/>
<rect x="772.3" y="253.3" width="7.5" height="1.2" fill="#555"/>
<rect x="772.3" y="256.2" width="7.5" height="1.2" fill="#555"/>
<rect class="lb" x="853.6" y="256.5" width="17.1" height="11.5"/>
<path d="M859.4 256.5V268" stroke="#888" stroke-width="0.6"/>
<rect x="861.2" y="258.0" width="8.3" height="1.2" fill="#555"/>
<rect x="861.2" y="261.0" width="8.3" height="1.2" fill="#555"/>
<rect x="861.2" y="264.0" width="8.3" height="1.2" fill="#555"/>
<rect class="lb" x="448" y="289" width="18" height="11"/>
<path d="M456.0 289V300" stroke="#888" stroke-width="0.6"/>
<rect x="457.8" y="290.5" width="7.0" height="1.2" fill="#555"/>
<rect x="457.8" y="293.3" width="7.0" height="1.2" fill="#555"/>
<rect x="457.8" y="296.2" width="7.0" height="1.2" fill="#555"/>
<rect class="lb" x="229" y="345" width="19" height="11"/>
<path d="M235.6 345V356" stroke="#888" stroke-width="0.6"/>
<rect x="237.4" y="346.5" width="9.4" height="1.2" fill="#555"/>
<rect x="237.4" y="349.3" width="9.4" height="1.2" fill="#555"/>
<rect x="237.4" y="352.2" width="9.4" height="1.2" fill="#555"/>
<rect class="lb" x="392" y="346" width="19" height="10"/>
<path d="M398.6 346V356" stroke="#888" stroke-width="0.6"/>
<rect x="400.4" y="347.5" width="9.4" height="1.2" fill="#555"/>
<rect x="400.4" y="350.0" width="9.4" height="1.2" fill="#555"/>
<rect x="400.4" y="352.5" width="9.4" height="1.2" fill="#555"/>
<rect class="lb" x="584" y="346" width="18" height="10"/>
<path d="M590.2 346V356" stroke="#888" stroke-width="0.6"/>
<rect x="592.0" y="347.5" width="8.8" height="1.2" fill="#555"/>
<rect x="592.0" y="350.0" width="8.8" height="1.2" fill="#555"/>
<rect x="592.0" y="352.5" width="8.8" height="1.2" fill="#555"/>
<rect class="lb" x="651" y="316" width="18" height="11"/>
<path d="M657.2 316V327" stroke="#888" stroke-width="0.6"/>
<rect x="659.0" y="317.5" width="8.8" height="1.2" fill="#555"/>
<rect x="659.0" y="320.3" width="8.8" height="1.2" fill="#555"/>
<rect x="659.0" y="323.2" width="8.8" height="1.2" fill="#555"/>
<rect class="lb" x="844" y="314" width="19" height="11"/>
<path d="M852.5 314V325" stroke="#888" stroke-width="0.6"/>
<rect x="854.3" y="315.5" width="7.5" height="1.2" fill="#555"/>
<rect x="854.3" y="318.3" width="7.5" height="1.2" fill="#555"/>
<rect x="854.3" y="321.2" width="7.5" height="1.2" fill="#555"/>
<rect class="lb" x="329" y="319" width="18" height="10"/>
<path d="M335.2 319V329" stroke="#888" stroke-width="0.6"/>
<rect x="337.0" y="320.5" width="8.8" height="1.2" fill="#555"/>
<rect x="337.0" y="323.0" width="8.8" height="1.2" fill="#555"/>
<rect x="337.0" y="325.5" width="8.8" height="1.2" fill="#555"/>
<rect class="lb" x="124.5" y="256.2" width="18" height="10.5"/>
<path d="M130.7 256.2V266.7" stroke="#888" stroke-width="0.6"/>
<rect x="132.5" y="257.7" width="8.8" height="1.2" fill="#555"/>
<rect x="132.5" y="260.4" width="8.8" height="1.2" fill="#555"/>
<rect x="132.5" y="263.0" width="8.8" height="1.2" fill="#555"/>
<rect class="lb" x="136" y="352" width="18" height="10.6"/>
<path d="M144.0 352V362.6" stroke="#888" stroke-width="0.6"/>
<rect x="145.8" y="353.5" width="7.0" height="1.2" fill="#555"/>
<rect x="145.8" y="356.2" width="7.0" height="1.2" fill="#555"/>
<rect x="145.8" y="358.9" width="7.0" height="1.2" fill="#555"/>
<rect class="lb" x="194" y="427" width="18" height="11"/>
<path d="M200.2 427V438" stroke="#888" stroke-width="0.6"/>
<rect x="202.0" y="428.5" width="8.8" height="1.2" fill="#555"/>
<rect x="202.0" y="431.3" width="8.8" height="1.2" fill="#555"/>
<rect x="202.0" y="434.2" width="8.8" height="1.2" fill="#555"/>
<rect class="lb" x="161" y="480" width="18" height="11"/>
<path d="M167.2 480V491" stroke="#888" stroke-width="0.6"/>
<rect x="169.0" y="481.5" width="8.8" height="1.2" fill="#555"/>
<rect x="169.0" y="484.3" width="8.8" height="1.2" fill="#555"/>
<rect x="169.0" y="487.2" width="8.8" height="1.2" fill="#555"/>
<rect class="lb" x="195" y="545.5" width="17" height="9.5"/>
<path d="M202.5 545.5V555" stroke="#888" stroke-width="0.6"/>
<rect x="204.3" y="547.0" width="6.5" height="1.2" fill="#555"/>
<rect x="204.3" y="549.3" width="6.5" height="1.2" fill="#555"/>
<rect x="204.3" y="551.7" width="6.5" height="1.2" fill="#555"/>
<rect class="lb" x="195" y="583" width="17" height="10"/>
<path d="M202.5 583V593" stroke="#888" stroke-width="0.6"/>
<rect x="204.3" y="584.5" width="6.5" height="1.2" fill="#555"/>
<rect x="204.3" y="587.0" width="6.5" height="1.2" fill="#555"/>
<rect x="204.3" y="589.5" width="6.5" height="1.2" fill="#555"/>
<rect class="lb" x="131.8" y="578.4" width="19.5" height="9.6"/>
<path d="M140.6 578.4V588" stroke="#888" stroke-width="0.6"/>
<rect x="142.4" y="579.9" width="7.8" height="1.2" fill="#555"/>
<rect x="142.4" y="582.3" width="7.8" height="1.2" fill="#555"/>
<rect x="142.4" y="584.6" width="7.8" height="1.2" fill="#555"/>
<rect class="lb" x="129.5" y="722.4" width="17.5" height="10.1"/>
<path d="M137.2 722.4V732.5" stroke="#888" stroke-width="0.6"/>
<rect x="139.1" y="723.9" width="6.8" height="1.2" fill="#555"/>
<rect x="139.1" y="726.4" width="6.8" height="1.2" fill="#555"/>
<rect x="139.1" y="729.0" width="6.8" height="1.2" fill="#555"/>
<rect class="lb" x="155" y="788" width="17.5" height="10"/>
<path d="M161.0 788V798" stroke="#888" stroke-width="0.6"/>
<rect x="162.8" y="789.5" width="8.5" height="1.2" fill="#555"/>
<rect x="162.8" y="792.0" width="8.5" height="1.2" fill="#555"/>
<rect x="162.8" y="794.5" width="8.5" height="1.2" fill="#555"/>
<rect class="lb" x="194" y="680.7" width="17.7" height="10.1"/>
<path d="M201.8 680.7V690.8" stroke="#888" stroke-width="0.6"/>
<rect x="203.7" y="682.2" width="6.8" height="1.2" fill="#555"/>
<rect x="203.7" y="684.7" width="6.8" height="1.2" fill="#555"/>
<rect x="203.7" y="687.3" width="6.8" height="1.2" fill="#555"/>
<rect class="lb" x="215.5" y="773" width="19" height="11.4"/>
<path d="M224.0 773V784.4" stroke="#888" stroke-width="0.6"/>
<rect x="225.8" y="774.5" width="7.5" height="1.2" fill="#555"/>
<rect x="225.8" y="777.5" width="7.5" height="1.2" fill="#555"/>
<rect x="225.8" y="780.4" width="7.5" height="1.2" fill="#555"/>
<rect class="lb" x="776.7" y="389.7" width="18.3" height="11"/>
<path d="M783.0 389.7V400.7" stroke="#888" stroke-width="0.6"/>
<rect x="784.8" y="391.2" width="9.0" height="1.2" fill="#555"/>
<rect x="784.8" y="394.0" width="9.0" height="1.2" fill="#555"/>
<rect x="784.8" y="396.9" width="9.0" height="1.2" fill="#555"/>
<rect class="lb" x="786.4" y="428.7" width="18.3" height="9.7"/>
<path d="M792.7 428.7V438.4" stroke="#888" stroke-width="0.6"/>
<rect x="794.5" y="430.2" width="9.0" height="1.2" fill="#555"/>
<rect x="794.5" y="432.6" width="9.0" height="1.2" fill="#555"/>
<rect x="794.5" y="435.0" width="9.0" height="1.2" fill="#555"/>
<rect class="lb" x="818" y="481" width="18.3" height="9.8"/>
<path d="M824.3 481V490.8" stroke="#888" stroke-width="0.6"/>
<rect x="826.1" y="482.5" width="9.0" height="1.2" fill="#555"/>
<rect x="826.1" y="484.9" width="9.0" height="1.2" fill="#555"/>
<rect x="826.1" y="487.4" width="9.0" height="1.2" fill="#555"/>
<rect class="lb" x="851" y="540.6" width="17" height="9.8"/>
<path d="M858.5 540.6V550.4" stroke="#888" stroke-width="0.6"/>
<rect x="860.3" y="542.1" width="6.5" height="1.2" fill="#555"/>
<rect x="860.3" y="544.5" width="6.5" height="1.2" fill="#555"/>
<rect x="860.3" y="547.0" width="6.5" height="1.2" fill="#555"/>
<rect class="lb" x="785" y="546.7" width="18.5" height="9.8"/>
<path d="M793.2 546.7V556.5" stroke="#888" stroke-width="0.6"/>
<rect x="795.0" y="548.2" width="7.2" height="1.2" fill="#555"/>
<rect x="795.0" y="550.6" width="7.2" height="1.2" fill="#555"/>
<rect x="795.0" y="553.1" width="7.2" height="1.2" fill="#555"/>
<rect class="lb" x="785" y="583" width="18.5" height="10"/>
<path d="M793.2 583V593" stroke="#888" stroke-width="0.6"/>
<rect x="795.0" y="584.5" width="7.2" height="1.2" fill="#555"/>
<rect x="795.0" y="587.0" width="7.2" height="1.2" fill="#555"/>
<rect x="795.0" y="589.5" width="7.2" height="1.2" fill="#555"/>
<rect class="lb" x="784.7" y="682" width="15.3" height="8.8"/>
<path d="M791.4 682V690.8" stroke="#888" stroke-width="0.6"/>
<rect x="793.1" y="683.5" width="5.6" height="1.2" fill="#555"/>
<rect x="793.1" y="685.6" width="5.6" height="1.2" fill="#555"/>
<rect x="793.1" y="687.7" width="5.6" height="1.2" fill="#555"/>
<rect class="lb" x="783.5" y="740" width="15.1" height="10.2"/>
<path d="M790.0 740V750.2" stroke="#888" stroke-width="0.6"/>
<rect x="791.8" y="741.5" width="5.6" height="1.2" fill="#555"/>
<rect x="791.8" y="744.1" width="5.6" height="1.2" fill="#555"/>
<rect x="791.8" y="746.6" width="5.6" height="1.2" fill="#555"/>
<rect class="lb" x="848" y="747.7" width="16.4" height="10.1"/>
<path d="M855.2 747.7V757.8" stroke="#888" stroke-width="0.6"/>
<rect x="857.0" y="749.2" width="6.2" height="1.2" fill="#555"/>
<rect x="857.0" y="751.7" width="6.2" height="1.2" fill="#555"/>
<rect x="857.0" y="754.3" width="6.2" height="1.2" fill="#555"/>
<rect class="lb" x="818.9" y="794.5" width="16.4" height="10.1"/>
<path d="M824.5 794.5V804.6" stroke="#888" stroke-width="0.6"/>
<rect x="826.3" y="796.0" width="7.8" height="1.2" fill="#555"/>
<rect x="826.3" y="798.5" width="7.8" height="1.2" fill="#555"/>
<rect x="826.3" y="801.1" width="7.8" height="1.2" fill="#555"/>
<path class="dr" transform="translate(120.0,249.0) rotate(90) scale(1.25,-1.25)" d="M-5.5 3 L3.2 -3.2 L4.5 -0.5"/>
<path class="dr" transform="translate(146.0,252.0) rotate(90) scale(1.25,-1.25)" d="M-5.5 3 L3.2 -3.2 L4.5 -0.5"/>
<path class="dr" transform="translate(120.0,267.0) rotate(90) scale(1.25,-1.25)" d="M-5.5 3 L3.2 -3.2 L4.5 -0.5"/>
<path class="dr" transform="translate(135.0,276.0) rotate(180) scale(1.25,-1.25)" d="M-5.5 3 L3.2 -3.2 L4.5 -0.5"/>
<path class="dr" transform="translate(146.0,204.0) rotate(180) scale(1.25,1.25)" d="M-5.5 3 L3.2 -3.2 L4.5 -0.5"/>
<path class="dr" transform="translate(171.0,284.0) rotate(0) scale(1.25,-1.25)" d="M-5.5 3 L3.2 -3.2 L4.5 -0.5"/>
<path class="dr" transform="translate(210.0,236.0) rotate(0) scale(1.25,1.25)" d="M-5.5 3 L3.2 -3.2 L4.5 -0.5"/>
<path class="dr" transform="translate(207.5,250.0) rotate(90) scale(1.25,-1.25)" d="M-5.5 3 L3.2 -3.2 L4.5 -0.5"/>
<path class="dr" transform="translate(241.0,255.0) rotate(180) scale(1.25,-1.25)" d="M-5.5 3 L3.2 -3.2 L4.5 -0.5"/>
<path class="dr" transform="translate(217.5,285.0) rotate(0) scale(1.25,1.25)" d="M-5.5 3 L3.2 -3.2 L4.5 -0.5"/>
<path class="dr" transform="translate(191.0,294.0) rotate(90) scale(1.25,1.25)" d="M-5.5 3 L3.2 -3.2 L4.5 -0.5"/>
<path class="dr" transform="translate(234.0,294.0) rotate(90) scale(1.25,-1.25)" d="M-5.5 3 L3.2 -3.2 L4.5 -0.5"/>
<path class="dr" transform="translate(255.0,217.5) rotate(180) scale(1.25,-1.25)" d="M-5.5 3 L3.2 -3.2 L4.5 -0.5"/>
<path class="dr" transform="translate(300.0,217.5) rotate(0) scale(1.25,1.25)" d="M-5.5 3 L3.2 -3.2 L4.5 -0.5"/>
<path class="dr" transform="translate(145.0,337.5) rotate(180) scale(1.25,-1.25)" d="M-5.5 3 L3.2 -3.2 L4.5 -0.5"/>
<path class="dr" transform="translate(97.5,312.5) rotate(90) scale(1.25,-1.25)" d="M-5.5 3 L3.2 -3.2 L4.5 -0.5"/>
<path class="dr" transform="translate(127.5,370.0) rotate(0) scale(1.25,1.25)" d="M-5.5 3 L3.2 -3.2 L4.5 -0.5"/>
<path class="dr" transform="translate(182.5,370.0) rotate(0) scale(1.25,-1.25)" d="M-5.5 3 L3.2 -3.2 L4.5 -0.5"/>
<path class="dr" transform="translate(220.0,367.5) rotate(90) scale(1.25,-1.25)" d="M-5.5 3 L3.2 -3.2 L4.5 -0.5"/>
<path class="dr" transform="translate(307.5,320.0) rotate(270) scale(1.25,-1.25)" d="M-5.5 3 L3.2 -3.2 L4.5 -0.5"/>
<path class="dr" transform="translate(318.8,262.5) rotate(180) scale(1.25,1.25)" d="M-5.5 3 L3.2 -3.2 L4.5 -0.5"/>
<path class="dr" transform="translate(345.0,255.0) rotate(90) scale(1.25,1.25)" d="M-5.5 3 L3.2 -3.2 L4.5 -0.5"/>
<path class="dr" transform="translate(360.0,257.5) rotate(270) scale(1.25,-1.25)" d="M-5.5 3 L3.2 -3.2 L4.5 -0.5"/>
<path class="dr" transform="translate(332.5,285.0) rotate(270) scale(1.25,1.25)" d="M-5.5 3 L3.2 -3.2 L4.5 -0.5"/>
<path class="dr" transform="translate(307.5,295.0) rotate(90) scale(1.25,-1.25)" d="M-5.5 3 L3.2 -3.2 L4.5 -0.5"/>
<path class="dr" transform="translate(410.0,272.5) rotate(90) scale(1.25,-1.25)" d="M-5.5 3 L3.2 -3.2 L4.5 -0.5"/>
<path class="dr" transform="translate(417.5,255.0) rotate(90) scale(1.25,-1.25)" d="M-5.5 3 L3.2 -3.2 L4.5 -0.5"/>
<path class="dr" transform="translate(432.5,257.5) rotate(270) scale(1.25,1.25)" d="M-5.5 3 L3.2 -3.2 L4.5 -0.5"/>
<path class="dr" transform="translate(420.0,285.0) rotate(90) scale(1.25,-1.25)" d="M-5.5 3 L3.2 -3.2 L4.5 -0.5"/>
<path class="dr" transform="translate(435.0,287.5) rotate(270) scale(1.25,1.25)" d="M-5.5 3 L3.2 -3.2 L4.5 -0.5"/>
<path class="dr" transform="translate(472.5,290.0) rotate(90) scale(1.25,1.25)" d="M-5.5 3 L3.2 -3.2 L4.5 -0.5"/>
<path class="dr" transform="translate(540.0,265.0) rotate(180) scale(1.25,1.25)" d="M-5.5 3 L3.2 -3.2 L4.5 -0.5"/>
<path class="dr" transform="translate(525.0,290.0) rotate(90) scale(1.25,1.25)" d="M-5.5 3 L3.2 -3.2 L4.5 -0.5"/>
<path class="dr" transform="translate(530.0,305.0) rotate(180) scale(1.25,1.25)" d="M-5.5 3 L3.2 -3.2 L4.5 -0.5"/>
<path class="dr" transform="translate(345.0,305.0) rotate(180) scale(1.25,-1.25)" d="M-5.5 3 L3.2 -3.2 L4.5 -0.5"/>
<path class="dr" transform="translate(410.0,305.0) rotate(0) scale(1.25,1.25)" d="M-5.5 3 L3.2 -3.2 L4.5 -0.5"/>
<path class="dr" transform="translate(353.8,327.5) rotate(0) scale(1.25,-1.25)" d="M-5.5 3 L3.2 -3.2 L4.5 -0.5"/>
<path class="dr" transform="translate(332.5,335.0) rotate(270) scale(1.25,1.25)" d="M-5.5 3 L3.2 -3.2 L4.5 -0.5"/>
<path class="dr" transform="translate(416.0,330.0) rotate(0) scale(1.25,1.25)" d="M-5.5 3 L3.2 -3.2 L4.5 -0.5"/>
<path class="dr" transform="translate(410.0,335.0) rotate(180) scale(1.25,1.25)" d="M-5.5 3 L3.2 -3.2 L4.5 -0.5"/>
<path class="dr" transform="translate(310.0,317.5) rotate(270) scale(1.25,-1.25)" d="M-5.5 3 L3.2 -3.2 L4.5 -0.5"/>
<path class="dr" transform="translate(407.5,217.5) rotate(180) scale(1.25,1.25)" d="M-5.5 3 L3.2 -3.2 L4.5 -0.5"/>
<path class="dr" transform="translate(480.0,217.5) rotate(270) scale(1.25,-1.25)" d="M-5.5 3 L3.2 -3.2 L4.5 -0.5"/>
<path class="dr" transform="translate(522.5,217.5) rotate(90) scale(1.25,1.25)" d="M-5.5 3 L3.2 -3.2 L4.5 -0.5"/>
<path class="dr" transform="translate(360.0,370.0) rotate(180) scale(1.25,1.25)" d="M-5.5 3 L3.2 -3.2 L4.5 -0.5"/>
<path class="dr" transform="translate(430.0,370.0) rotate(270) scale(1.25,-1.25)" d="M-5.5 3 L3.2 -3.2 L4.5 -0.5"/>
<path class="dr" transform="translate(572.5,253.8) rotate(0) scale(1.25,-1.25)" d="M-5.5 3 L3.2 -3.2 L4.5 -0.5"/>
<path class="dr" transform="translate(585.0,265.0) rotate(90) scale(1.25,1.25)" d="M-5.5 3 L3.2 -3.2 L4.5 -0.5"/>
<path class="dr" transform="translate(565.0,255.0) rotate(180) scale(1.25,-1.25)" d="M-5.5 3 L3.2 -3.2 L4.5 -0.5"/>
<path class="dr" transform="translate(578.8,290.0) rotate(90) scale(1.25,-1.25)" d="M-5.5 3 L3.2 -3.2 L4.5 -0.5"/>
<path class="dr" transform="translate(582.5,305.0) rotate(180) scale(1.25,-1.25)" d="M-5.5 3 L3.2 -3.2 L4.5 -0.5"/>
<path class="dr" transform="translate(572.5,330.0) rotate(0) scale(1.25,-1.25)" d="M-5.5 3 L3.2 -3.2 L4.5 -0.5"/>
<path class="dr" transform="translate(587.5,327.5) rotate(90) scale(1.25,-1.25)" d="M-5.5 3 L3.2 -3.2 L4.5 -0.5"/>
<path class="dr" transform="translate(592.5,322.5) rotate(180) scale(1.25,-1.25)" d="M-5.5 3 L3.2 -3.2 L4.5 -0.5"/>
<path class="dr" transform="translate(640.0,255.0) rotate(90) scale(1.25,-1.25)" d="M-5.5 3 L3.2 -3.2 L4.5 -0.5"/>
<path class="dr" transform="translate(632.5,265.0) rotate(270) scale(1.25,1.25)" d="M-5.5 3 L3.2 -3.2 L4.5 -0.5"/>
<path class="dr" transform="translate(652.5,255.0) rotate(0) scale(1.25,-1.25)" d="M-5.5 3 L3.2 -3.2 L4.5 -0.5"/>
<path class="dr" transform="translate(676.0,265.0) rotate(0) scale(1.25,1.25)" d="M-5.5 3 L3.2 -3.2 L4.5 -0.5"/>
<path class="dr" transform="translate(665.0,285.0) rotate(180) scale(1.25,-1.25)" d="M-5.5 3 L3.2 -3.2 L4.5 -0.5"/>
<path class="dr" transform="translate(687.5,292.5) rotate(270) scale(1.25,-1.25)" d="M-5.5 3 L3.2 -3.2 L4.5 -0.5"/>
<path class="dr" transform="translate(653.8,303.8) rotate(0) scale(1.25,-1.25)" d="M-5.5 3 L3.2 -3.2 L4.5 -0.5"/>
<path class="dr" transform="translate(642.5,325.0) rotate(270) scale(1.25,1.25)" d="M-5.5 3 L3.2 -3.2 L4.5 -0.5"/>
<path class="dr" transform="translate(665.0,337.5) rotate(180) scale(1.25,-1.25)" d="M-5.5 3 L3.2 -3.2 L4.5 -0.5"/>
<path class="dr" transform="translate(685.0,325.0) rotate(90) scale(1.25,1.25)" d="M-5.5 3 L3.2 -3.2 L4.5 -0.5"/>
<path class="dr" transform="translate(756.0,252.5) rotate(0) scale(1.25,1.25)" d="M-5.5 3 L3.2 -3.2 L4.5 -0.5"/>
<path class="dr" transform="translate(780.0,237.5) rotate(0) scale(1.25,1.25)" d="M-5.5 3 L3.2 -3.2 L4.5 -0.5"/>
<path class="dr" transform="translate(775.0,285.0) rotate(0) scale(1.25,-1.25)" d="M-5.5 3 L3.2 -3.2 L4.5 -0.5"/>
<path class="dr" transform="translate(765.0,295.0) rotate(270) scale(1.25,1.25)" d="M-5.5 3 L3.2 -3.2 L4.5 -0.5"/>
<path class="dr" transform="translate(695.0,217.5) rotate(180) scale(1.25,-1.25)" d="M-5.5 3 L3.2 -3.2 L4.5 -0.5"/>
<path class="dr" transform="translate(737.5,217.5) rotate(0) scale(1.25,1.25)" d="M-5.5 3 L3.2 -3.2 L4.5 -0.5"/>
<path class="dr" transform="translate(562.5,367.5) rotate(0) scale(1.25,-1.25)" d="M-5.5 3 L3.2 -3.2 L4.5 -0.5"/>
<path class="dr" transform="translate(632.5,367.5) rotate(90) scale(1.25,1.25)" d="M-5.5 3 L3.2 -3.2 L4.5 -0.5"/>
<path class="dr" transform="translate(780.0,365.0) rotate(90) scale(1.25,-1.25)" d="M-5.5 3 L3.2 -3.2 L4.5 -0.5"/>
<path class="dr" transform="translate(783.4,234.0) rotate(270) scale(1.25,-1.25)" d="M-5.5 3 L3.2 -3.2 L4.5 -0.5"/>
<path class="dr" transform="translate(792.4,244.8) rotate(270) scale(1.25,1.25)" d="M-5.5 3 L3.2 -3.2 L4.5 -0.5"/>
<path class="dr" transform="translate(788.8,255.6) rotate(180) scale(1.25,1.25)" d="M-5.5 3 L3.2 -3.2 L4.5 -0.5"/>
<path class="dr" transform="translate(778.0,286.0) rotate(0) scale(1.25,1.25)" d="M-5.5 3 L3.2 -3.2 L4.5 -0.5"/>
<path class="dr" transform="translate(824.0,284.4) rotate(270) scale(1.25,-1.25)" d="M-5.5 3 L3.2 -3.2 L4.5 -0.5"/>
<path class="dr" transform="translate(857.0,248.4) rotate(90) scale(1.25,1.25)" d="M-5.5 3 L3.2 -3.2 L4.5 -0.5"/>
<path class="dr" transform="translate(873.4,248.4) rotate(90) scale(1.25,-1.25)" d="M-5.5 3 L3.2 -3.2 L4.5 -0.5"/>
<path class="dr" transform="translate(877.0,266.4) rotate(90) scale(1.25,1.25)" d="M-5.5 3 L3.2 -3.2 L4.5 -0.5"/>
<path class="dr" transform="translate(860.8,273.6) rotate(180) scale(1.25,1.25)" d="M-5.5 3 L3.2 -3.2 L4.5 -0.5"/>
<path class="dr" transform="translate(850.0,203.4) rotate(270) scale(1.25,-1.25)" d="M-5.5 3 L3.2 -3.2 L4.5 -0.5"/>
<path class="dr" transform="translate(805.0,291.6) rotate(270) scale(1.25,1.25)" d="M-5.5 3 L3.2 -3.2 L4.5 -0.5"/>
<path class="dr" transform="translate(766.0,294.0) rotate(0) scale(1.25,1.25)" d="M-5.5 3 L3.2 -3.2 L4.5 -0.5"/>
<path class="dr" transform="translate(806.0,294.0) rotate(270) scale(1.25,-1.25)" d="M-5.5 3 L3.2 -3.2 L4.5 -0.5"/>
<path class="dr" transform="translate(900.0,314.0) rotate(0) scale(1.25,1.25)" d="M-5.5 3 L3.2 -3.2 L4.5 -0.5"/>
<path class="dr" transform="translate(852.0,338.0) rotate(270) scale(1.25,-1.25)" d="M-5.5 3 L3.2 -3.2 L4.5 -0.5"/>
<path class="dr" transform="translate(134.8,376.6) rotate(0) scale(1.25,1.25)" d="M-5.5 3 L3.2 -3.2 L4.5 -0.5"/>
<path class="dr" transform="translate(152.4,372.0) rotate(0) scale(1.25,-1.25)" d="M-5.5 3 L3.2 -3.2 L4.5 -0.5"/>
<path class="dr" transform="translate(209.6,376.6) rotate(180) scale(1.25,1.25)" d="M-5.5 3 L3.2 -3.2 L4.5 -0.5"/>
<path class="dr" transform="translate(160.0,416.0) rotate(90) scale(1.25,-1.25)" d="M-5.5 3 L3.2 -3.2 L4.5 -0.5"/>
<path class="dr" transform="translate(170.0,422.8) rotate(0) scale(1.25,1.25)" d="M-5.5 3 L3.2 -3.2 L4.5 -0.5"/>
<path class="dr" transform="translate(185.4,416.0) rotate(270) scale(1.25,-1.25)" d="M-5.5 3 L3.2 -3.2 L4.5 -0.5"/>
<path class="dr" transform="translate(98.5,425.0) rotate(180) scale(1.25,-1.25)" d="M-5.5 3 L3.2 -3.2 L4.5 -0.5"/>
<path class="dr" transform="translate(152.4,482.0) rotate(0) scale(1.25,-1.25)" d="M-5.5 3 L3.2 -3.2 L4.5 -0.5"/>
<path class="dr" transform="translate(163.4,477.8) rotate(270) scale(1.25,-1.25)" d="M-5.5 3 L3.2 -3.2 L4.5 -0.5"/>
<path class="dr" transform="translate(187.6,482.0) rotate(270) scale(1.25,-1.25)" d="M-5.5 3 L3.2 -3.2 L4.5 -0.5"/>
<path class="dr" transform="translate(244.8,475.6) rotate(270) scale(1.25,-1.25)" d="M-5.5 3 L3.2 -3.2 L4.5 -0.5"/>
<path class="dr" transform="translate(156.8,502.0) rotate(90) scale(1.25,-1.25)" d="M-5.5 3 L3.2 -3.2 L4.5 -0.5"/>
<path class="dr" transform="translate(167.8,515.2) rotate(180) scale(1.25,-1.25)" d="M-5.5 3 L3.2 -3.2 L4.5 -0.5"/>
<path class="dr" transform="translate(181.0,526.0) rotate(0) scale(1.25,-1.25)" d="M-5.5 3 L3.2 -3.2 L4.5 -0.5"/>
<path class="dr" transform="translate(198.6,519.6) rotate(0) scale(1.25,-1.25)" d="M-5.5 3 L3.2 -3.2 L4.5 -0.5"/>
<path class="dr" transform="translate(214.0,526.0) rotate(90) scale(1.25,-1.25)" d="M-5.5 3 L3.2 -3.2 L4.5 -0.5"/>
<path class="dr" transform="translate(203.0,532.8) rotate(90) scale(1.25,1.25)" d="M-5.5 3 L3.2 -3.2 L4.5 -0.5"/>
<path class="dr" transform="translate(93.0,543.8) rotate(90) scale(1.25,1.25)" d="M-5.5 3 L3.2 -3.2 L4.5 -0.5"/>
<path class="dr" transform="translate(141.4,561.4) rotate(270) scale(1.25,-1.25)" d="M-5.5 3 L3.2 -3.2 L4.5 -0.5"/>
<path class="dr" transform="translate(244.8,552.6) rotate(270) scale(1.25,-1.25)" d="M-5.5 3 L3.2 -3.2 L4.5 -0.5"/>
<path class="dr" transform="translate(141.4,562.0) rotate(180) scale(1.25,1.25)" d="M-5.5 3 L3.2 -3.2 L4.5 -0.5"/>
<path class="dr" transform="translate(128.2,582.0) rotate(90) scale(1.25,-1.25)" d="M-5.5 3 L3.2 -3.2 L4.5 -0.5"/>
<path class="dr" transform="translate(126.0,597.4) rotate(90) scale(1.25,-1.25)" d="M-5.5 3 L3.2 -3.2 L4.5 -0.5"/>
<path class="dr" transform="translate(134.8,601.8) rotate(180) scale(1.25,1.25)" d="M-5.5 3 L3.2 -3.2 L4.5 -0.5"/>
<path class="dr" transform="translate(174.4,630.4) rotate(90) scale(1.25,1.25)" d="M-5.5 3 L3.2 -3.2 L4.5 -0.5"/>
<path class="dr" transform="translate(183.2,615.0) rotate(270) scale(1.25,1.25)" d="M-5.5 3 L3.2 -3.2 L4.5 -0.5"/>
<path class="dr" transform="translate(200.8,604.0) rotate(0) scale(1.25,1.25)" d="M-5.5 3 L3.2 -3.2 L4.5 -0.5"/>
<path class="dr" transform="translate(211.8,610.6) rotate(180) scale(1.25,-1.25)" d="M-5.5 3 L3.2 -3.2 L4.5 -0.5"/>
<path class="dr" transform="translate(203.0,623.8) rotate(0) scale(1.25,-1.25)" d="M-5.5 3 L3.2 -3.2 L4.5 -0.5"/>
<path class="dr" transform="translate(170.0,661.2) rotate(180) scale(1.25,1.25)" d="M-5.5 3 L3.2 -3.2 L4.5 -0.5"/>
<path class="dr" transform="translate(134.8,685.4) rotate(270) scale(1.25,-1.25)" d="M-5.5 3 L3.2 -3.2 L4.5 -0.5"/>
<path class="dr" transform="translate(148.0,683.2) rotate(0) scale(1.25,1.25)" d="M-5.5 3 L3.2 -3.2 L4.5 -0.5"/>
<path class="dr" transform="translate(126.0,720.6) rotate(180) scale(1.25,1.25)" d="M-5.5 3 L3.2 -3.2 L4.5 -0.5"/>
<path class="dr" transform="translate(170.0,718.4) rotate(270) scale(1.25,-1.25)" d="M-5.5 3 L3.2 -3.2 L4.5 -0.5"/>
<path class="dr" transform="translate(211.8,674.4) rotate(270) scale(1.25,1.25)" d="M-5.5 3 L3.2 -3.2 L4.5 -0.5"/>
<path class="dr" transform="translate(200.8,672.2) rotate(270) scale(1.25,-1.25)" d="M-5.5 3 L3.2 -3.2 L4.5 -0.5"/>
<path class="dr" transform="translate(183.2,689.8) rotate(180) scale(1.25,-1.25)" d="M-5.5 3 L3.2 -3.2 L4.5 -0.5"/>
<path class="dr" transform="translate(209.6,694.2) rotate(90) scale(1.25,-1.25)" d="M-5.5 3 L3.2 -3.2 L4.5 -0.5"/>
<path class="dr" transform="translate(86.4,740.4) rotate(90) scale(1.25,1.25)" d="M-5.5 3 L3.2 -3.2 L4.5 -0.5"/>
<path class="dr" transform="translate(248.0,707.4) rotate(0) scale(1.25,1.25)" d="M-5.5 3 L3.2 -3.2 L4.5 -0.5"/>
<path class="dr" transform="translate(248.0,742.6) rotate(180) scale(1.25,1.25)" d="M-5.5 3 L3.2 -3.2 L4.5 -0.5"/>
<path class="dr" transform="translate(247.0,580.0) rotate(0) scale(1.25,-1.25)" d="M-5.5 3 L3.2 -3.2 L4.5 -0.5"/>
<path class="dr" transform="translate(134.8,732.0) rotate(180) scale(1.25,1.25)" d="M-5.5 3 L3.2 -3.2 L4.5 -0.5"/>
<path class="dr" transform="translate(143.6,789.4) rotate(0) scale(1.25,1.25)" d="M-5.5 3 L3.2 -3.2 L4.5 -0.5"/>
<path class="dr" transform="translate(170.0,774.0) rotate(0) scale(1.25,1.25)" d="M-5.5 3 L3.2 -3.2 L4.5 -0.5"/>
<path class="dr" transform="translate(194.2,763.0) rotate(0) scale(1.25,1.25)" d="M-5.5 3 L3.2 -3.2 L4.5 -0.5"/>
<path class="dr" transform="translate(211.8,789.4) rotate(180) scale(1.25,-1.25)" d="M-5.5 3 L3.2 -3.2 L4.5 -0.5"/>
<path class="dr" transform="translate(196.4,809.2) rotate(270) scale(1.25,1.25)" d="M-5.5 3 L3.2 -3.2 L4.5 -0.5"/>
<path class="dr" transform="translate(209.6,806.0) rotate(180) scale(1.25,1.25)" d="M-5.5 3 L3.2 -3.2 L4.5 -0.5"/>
<path class="dr" transform="translate(143.6,829.0) rotate(180) scale(1.25,1.25)" d="M-5.5 3 L3.2 -3.2 L4.5 -0.5"/>
<path class="dr" transform="translate(170.0,846.6) rotate(180) scale(1.25,1.25)" d="M-5.5 3 L3.2 -3.2 L4.5 -0.5"/>
<path class="dr" transform="translate(183.2,840.0) rotate(180) scale(1.25,-1.25)" d="M-5.5 3 L3.2 -3.2 L4.5 -0.5"/>
<path class="dr" transform="translate(99.6,851.0) rotate(90) scale(1.25,-1.25)" d="M-5.5 3 L3.2 -3.2 L4.5 -0.5"/>
<path class="dr" transform="translate(244.8,745.4) rotate(180) scale(1.25,1.25)" d="M-5.5 3 L3.2 -3.2 L4.5 -0.5"/>
<path class="dr" transform="translate(786.0,376.6) rotate(0) scale(1.25,1.25)" d="M-5.5 3 L3.2 -3.2 L4.5 -0.5"/>
<path class="dr" transform="translate(801.4,372.2) rotate(90) scale(1.25,-1.25)" d="M-5.5 3 L3.2 -3.2 L4.5 -0.5"/>
<path class="dr" transform="translate(821.2,378.8) rotate(90) scale(1.25,1.25)" d="M-5.5 3 L3.2 -3.2 L4.5 -0.5"/>
<path class="dr" transform="translate(847.6,374.4) rotate(270) scale(1.25,-1.25)" d="M-5.5 3 L3.2 -3.2 L4.5 -0.5"/>
<path class="dr" transform="translate(863.0,376.6) rotate(270) scale(1.25,1.25)" d="M-5.5 3 L3.2 -3.2 L4.5 -0.5"/>
<path class="dr" transform="translate(810.2,416.2) rotate(270) scale(1.25,-1.25)" d="M-5.5 3 L3.2 -3.2 L4.5 -0.5"/>
<path class="dr" transform="translate(838.8,416.2) rotate(0) scale(1.25,1.25)" d="M-5.5 3 L3.2 -3.2 L4.5 -0.5"/>
<path class="dr" transform="translate(898.2,427.2) rotate(0) scale(1.25,1.25)" d="M-5.5 3 L3.2 -3.2 L4.5 -0.5"/>
<path class="dr" transform="translate(808.0,482.2) rotate(0) scale(1.25,1.25)" d="M-5.5 3 L3.2 -3.2 L4.5 -0.5"/>
<path class="dr" transform="translate(821.2,477.8) rotate(90) scale(1.25,1.25)" d="M-5.5 3 L3.2 -3.2 L4.5 -0.5"/>
<path class="dr" transform="translate(843.2,482.2) rotate(270) scale(1.25,1.25)" d="M-5.5 3 L3.2 -3.2 L4.5 -0.5"/>
<path class="dr" transform="translate(750.8,475.6) rotate(180) scale(1.25,1.25)" d="M-5.5 3 L3.2 -3.2 L4.5 -0.5"/>
<path class="dr" transform="translate(838.8,499.8) rotate(90) scale(1.25,-1.25)" d="M-5.5 3 L3.2 -3.2 L4.5 -0.5"/>
<path class="dr" transform="translate(825.6,517.4) rotate(180) scale(1.25,1.25)" d="M-5.5 3 L3.2 -3.2 L4.5 -0.5"/>
<path class="dr" transform="translate(788.2,524.0) rotate(0) scale(1.25,1.25)" d="M-5.5 3 L3.2 -3.2 L4.5 -0.5"/>
<path class="dr" transform="translate(799.2,528.4) rotate(0) scale(1.25,-1.25)" d="M-5.5 3 L3.2 -3.2 L4.5 -0.5"/>
<path class="dr" transform="translate(779.4,521.8) rotate(90) scale(1.25,-1.25)" d="M-5.5 3 L3.2 -3.2 L4.5 -0.5"/>
<path class="dr" transform="translate(750.8,552.6) rotate(90) scale(1.25,-1.25)" d="M-5.5 3 L3.2 -3.2 L4.5 -0.5"/>
<path class="dr" transform="translate(902.6,546.0) rotate(90) scale(1.25,1.25)" d="M-5.5 3 L3.2 -3.2 L4.5 -0.5"/>
<path class="dr" transform="translate(852.0,559.2) rotate(180) scale(1.25,1.25)" d="M-5.5 3 L3.2 -3.2 L4.5 -0.5"/>
<path class="dr" transform="translate(869.6,582.0) rotate(0) scale(1.25,1.25)" d="M-5.5 3 L3.2 -3.2 L4.5 -0.5"/>
<path class="dr" transform="translate(871.8,597.4) rotate(90) scale(1.25,1.25)" d="M-5.5 3 L3.2 -3.2 L4.5 -0.5"/>
<path class="dr" transform="translate(858.6,606.2) rotate(90) scale(1.25,1.25)" d="M-5.5 3 L3.2 -3.2 L4.5 -0.5"/>
<path class="dr" transform="translate(838.8,579.8) rotate(180) scale(1.25,1.25)" d="M-5.5 3 L3.2 -3.2 L4.5 -0.5"/>
<path class="dr" transform="translate(786.0,606.2) rotate(180) scale(1.25,1.25)" d="M-5.5 3 L3.2 -3.2 L4.5 -0.5"/>
<path class="dr" transform="translate(781.6,617.2) rotate(180) scale(1.25,1.25)" d="M-5.5 3 L3.2 -3.2 L4.5 -0.5"/>
<path class="dr" transform="translate(799.2,619.4) rotate(0) scale(1.25,-1.25)" d="M-5.5 3 L3.2 -3.2 L4.5 -0.5"/>
<path class="dr" transform="translate(823.4,630.4) rotate(270) scale(1.25,-1.25)" d="M-5.5 3 L3.2 -3.2 L4.5 -0.5"/>
<path class="dr" transform="translate(823.4,661.2) rotate(90) scale(1.25,-1.25)" d="M-5.5 3 L3.2 -3.2 L4.5 -0.5"/>
<path class="dr" transform="translate(783.8,672.2) rotate(0) scale(1.25,-1.25)" d="M-5.5 3 L3.2 -3.2 L4.5 -0.5"/>
<path class="dr" transform="translate(797.0,670.0) rotate(90) scale(1.25,1.25)" d="M-5.5 3 L3.2 -3.2 L4.5 -0.5"/>
<path class="dr" transform="translate(783.8,692.0) rotate(180) scale(1.25,-1.25)" d="M-5.5 3 L3.2 -3.2 L4.5 -0.5"/>
<path class="dr" transform="translate(825.6,716.2) rotate(180) scale(1.25,1.25)" d="M-5.5 3 L3.2 -3.2 L4.5 -0.5"/>
<path class="dr" transform="translate(852.0,683.2) rotate(0) scale(1.25,1.25)" d="M-5.5 3 L3.2 -3.2 L4.5 -0.5"/>
<path class="dr" transform="translate(858.6,716.2) rotate(270) scale(1.25,1.25)" d="M-5.5 3 L3.2 -3.2 L4.5 -0.5"/>
<path class="dr" transform="translate(871.8,720.6) rotate(180) scale(1.25,-1.25)" d="M-5.5 3 L3.2 -3.2 L4.5 -0.5"/>
<path class="dr" transform="translate(838.8,744.8) rotate(180) scale(1.25,1.25)" d="M-5.5 3 L3.2 -3.2 L4.5 -0.5"/>
<path class="dr" transform="translate(750.8,586.4) rotate(270) scale(1.25,-1.25)" d="M-5.5 3 L3.2 -3.2 L4.5 -0.5"/>
<path class="dr" transform="translate(750.8,709.6) rotate(90) scale(1.25,-1.25)" d="M-5.5 3 L3.2 -3.2 L4.5 -0.5"/>
<path class="dr" transform="translate(750.8,747.0) rotate(180) scale(1.25,1.25)" d="M-5.5 3 L3.2 -3.2 L4.5 -0.5"/>
<path class="dr" transform="translate(911.4,736.0) rotate(0) scale(1.25,1.25)" d="M-5.5 3 L3.2 -3.2 L4.5 -0.5"/>
<path class="dr" transform="translate(779.4,681.0) rotate(0) scale(1.25,1.25)" d="M-5.5 3 L3.2 -3.2 L4.5 -0.5"/>
<path class="dr" transform="translate(794.8,760.8) rotate(0) scale(1.25,1.25)" d="M-5.5 3 L3.2 -3.2 L4.5 -0.5"/>
<path class="dr" transform="translate(816.8,765.2) rotate(180) scale(1.25,1.25)" d="M-5.5 3 L3.2 -3.2 L4.5 -0.5"/>
<path class="dr" transform="translate(827.8,771.8) rotate(0) scale(1.25,-1.25)" d="M-5.5 3 L3.2 -3.2 L4.5 -0.5"/>
<path class="dr" transform="translate(783.8,789.4) rotate(90) scale(1.25,1.25)" d="M-5.5 3 L3.2 -3.2 L4.5 -0.5"/>
<path class="dr" transform="translate(797.0,807.0) rotate(180) scale(1.25,-1.25)" d="M-5.5 3 L3.2 -3.2 L4.5 -0.5"/>
<path class="dr" transform="translate(786.0,802.6) rotate(270) scale(1.25,-1.25)" d="M-5.5 3 L3.2 -3.2 L4.5 -0.5"/>
<path class="dr" transform="translate(852.0,826.8) rotate(0) scale(1.25,1.25)" d="M-5.5 3 L3.2 -3.2 L4.5 -0.5"/>
<path class="dr" transform="translate(816.8,842.2) rotate(90) scale(1.25,-1.25)" d="M-5.5 3 L3.2 -3.2 L4.5 -0.5"/>
<path class="dr" transform="translate(832.2,844.4) rotate(0) scale(1.25,1.25)" d="M-5.5 3 L3.2 -3.2 L4.5 -0.5"/>
<path class="dr" transform="translate(865.2,752.0) rotate(180) scale(1.25,-1.25)" d="M-5.5 3 L3.2 -3.2 L4.5 -0.5"/>
<path class="dr" transform="translate(860.8,763.0) rotate(270) scale(1.25,-1.25)" d="M-5.5 3 L3.2 -3.2 L4.5 -0.5"/>
<path class="dr" transform="translate(896.0,848.8) rotate(90) scale(1.25,-1.25)" d="M-5.5 3 L3.2 -3.2 L4.5 -0.5"/>
<path class="dr" transform="translate(749.7,747.6) rotate(0) scale(1.25,-1.25)" d="M-5.5 3 L3.2 -3.2 L4.5 -0.5"/>
<path class="dr" transform="translate(909.2,736.6) rotate(180) scale(1.25,-1.25)" d="M-5.5 3 L3.2 -3.2 L4.5 -0.5"/>
<rect class="nb" x="168.0" y="275.5" width="10.0" height="6.0"/>
<rect class="nb" x="212.0" y="275.5" width="10.0" height="6.0"/>
<rect class="nb" x="326.0" y="275.5" width="10.0" height="6.0"/>
<rect class="nb" x="416.0" y="275.5" width="10.0" height="6.0"/>
<rect class="nb" x="432.0" y="291.5" width="8.0" height="6.0"/>
<rect class="nb" x="340.0" y="308.5" width="10.0" height="4.0"/>
<rect class="nb" x="407.5" y="308.5" width="8.5" height="4.0"/>
<rect class="nb" x="660.0" y="277.0" width="10.0" height="3.5"/>
<rect class="nb" x="570.0" y="294.5" width="11.0" height="5.0"/>
<rect class="nb" x="580.0" y="307.0" width="10.0" height="4.5"/>
<rect class="nb" x="649.0" y="307.0" width="8.5" height="4.5"/>
<rect class="nb" x="762.5" y="277.0" width="11.5" height="3.5"/>
<rect class="nb" x="165.6" y="378.3" width="13.2" height="3.2"/>
<rect class="nb" x="163.4" y="512.5" width="8.8" height="4.3"/>
<rect class="nb" x="177.7" y="524.5" width="11.0" height="4.4"/>
<rect class="nb" x="152.4" y="583.5" width="11.0" height="5.6"/>
<rect class="nb" x="180.0" y="615.5" width="10.0" height="4.4"/>
<rect class="nb" x="180.0" y="689.5" width="10.0" height="4.0"/>
<rect class="nb" x="152.4" y="726.5" width="11.0" height="4.5"/>
<rect class="nb" x="180.0" y="765.8" width="10.0" height="4.3"/>
<rect class="nb" x="162.3" y="775.5" width="9.9" height="4.5"/>
<rect class="nb" x="823.4" y="509.2" width="11.0" height="4.3"/>
<rect class="nb" x="804.7" y="524.5" width="9.9" height="4.4"/>
<rect class="nb" x="816.8" y="380.5" width="11.0" height="3.2"/>
<rect class="nb" x="830.0" y="584.8" width="10.0" height="4.3"/>
<rect class="nb" x="805.8" y="616.7" width="9.9" height="3.2"/>
<rect class="nb" x="805.8" y="688.2" width="9.9" height="4.3"/>
<rect class="nb" x="832.2" y="739.9" width="9.8" height="4.3"/>
<rect class="nb" x="833.3" y="740.5" width="11.0" height="4.3"/>
<rect class="nb" x="805.8" y="764.7" width="11.0" height="4.3"/>
<rect class="nb" x="823.4" y="779.0" width="12.1" height="4.3"/>
<rect class="nb" x="185.0" y="363.5" width="10.0" height="6.0"/>
<rect class="nb" x="158.7" y="353.0" width="11.9" height="6.5"/>
<rect class="nb" x="800.5" y="363.5" width="11.5" height="5.0"/>
<rect class="nb" x="827.0" y="353.5" width="13.0" height="4.0"/>
<rect class="nb" x="819.0" y="381.5" width="11.0" height="3.5"/>
<rect class="nb" x="168.0" y="377.5" width="11.0" height="5.0"/>
<rect class="lb" x="489.1" y="273.6" width="6.4" height="6.4"/><circle cx="492.3" cy="276.8" r="2.1" fill="none" stroke="#333" stroke-width="0.8"/>
<rect class="lb" x="501.8" y="273.6" width="6.4" height="6.4"/><circle cx="505.0" cy="276.8" r="2.1" fill="none" stroke="#333" stroke-width="0.8"/>
<rect class="lb" x="276.8" y="274.8" width="6.4" height="6.4"/><circle cx="280.0" cy="278.0" r="2.1" fill="none" stroke="#333" stroke-width="0.8"/>
<rect class="lb" x="712.8" y="274.8" width="6.4" height="6.4"/><circle cx="716.0" cy="278.0" r="2.1" fill="none" stroke="#333" stroke-width="0.8"/>
<rect class="lb" x="116.8" y="290.5" width="6.4" height="6.4"/><circle cx="120.0" cy="293.7" r="2.1" fill="none" stroke="#333" stroke-width="0.8"/>
<rect class="lb" x="156.8" y="299.2" width="6.4" height="6.4"/><circle cx="160.0" cy="302.4" r="2.1" fill="none" stroke="#333" stroke-width="0.8"/>
<rect class="lb" x="872.8" y="290.2" width="6.4" height="6.4"/><circle cx="876.0" cy="293.4" r="2.1" fill="none" stroke="#333" stroke-width="0.8"/>
<rect class="lb" x="832.8" y="298.8" width="6.4" height="6.4"/><circle cx="836.0" cy="302.0" r="2.1" fill="none" stroke="#333" stroke-width="0.8"/>
<rect class="lb" x="380.8" y="337.8" width="6.4" height="6.4"/><circle cx="384.0" cy="341.0" r="2.1" fill="none" stroke="#333" stroke-width="0.8"/>
<rect class="lb" x="609.3" y="337.8" width="6.4" height="6.4"/><circle cx="612.5" cy="341.0" r="2.1" fill="none" stroke="#333" stroke-width="0.8"/>
<rect class="lb" x="188.8" y="404.2" width="6.4" height="6.4"/><circle cx="192.0" cy="407.4" r="2.1" fill="none" stroke="#333" stroke-width="0.8"/>
<rect class="lb" x="180.0" y="441.6" width="6.4" height="6.4"/><circle cx="183.2" cy="444.8" r="2.1" fill="none" stroke="#333" stroke-width="0.8"/>
<rect class="lb" x="150.3" y="525.2" width="6.4" height="6.4"/><circle cx="153.5" cy="528.4" r="2.1" fill="none" stroke="#333" stroke-width="0.8"/>
<rect class="lb" x="184.4" y="572.2" width="6.4" height="6.4"/><circle cx="187.6" cy="575.4" r="2.1" fill="none" stroke="#333" stroke-width="0.8"/>
<rect class="lb" x="184.4" y="715.2" width="6.4" height="6.4"/><circle cx="187.6" cy="718.4" r="2.1" fill="none" stroke="#333" stroke-width="0.8"/>
<rect class="lb" x="184.4" y="724.0" width="6.4" height="6.4"/><circle cx="187.6" cy="727.2" r="2.1" fill="none" stroke="#333" stroke-width="0.8"/>
<rect class="lb" x="151.4" y="754.3" width="6.4" height="6.4"/><circle cx="154.6" cy="757.5" r="2.1" fill="none" stroke="#333" stroke-width="0.8"/>
<rect class="lb" x="134.8" y="778.5" width="6.4" height="6.4"/><circle cx="138.0" cy="781.7" r="2.1" fill="none" stroke="#333" stroke-width="0.8"/>
<rect class="lb" x="800.4" y="403.1" width="6.4" height="6.4"/><circle cx="803.6" cy="406.3" r="2.1" fill="none" stroke="#333" stroke-width="0.8"/>
<rect class="lb" x="809.2" y="440.5" width="6.4" height="6.4"/><circle cx="812.4" cy="443.7" r="2.1" fill="none" stroke="#333" stroke-width="0.8"/>
<rect class="lb" x="840.0" y="525.2" width="6.4" height="6.4"/><circle cx="843.2" cy="528.4" r="2.1" fill="none" stroke="#333" stroke-width="0.8"/>
<rect class="lb" x="804.8" y="572.2" width="6.4" height="6.4"/><circle cx="808.0" cy="575.4" r="2.1" fill="none" stroke="#333" stroke-width="0.8"/>
<rect class="lb" x="804.8" y="725.1" width="6.4" height="6.4"/><circle cx="808.0" cy="728.3" r="2.1" fill="none" stroke="#333" stroke-width="0.8"/>
<rect class="lb" x="853.2" y="801.6" width="6.4" height="6.4"/><circle cx="856.4" cy="804.8" r="2.1" fill="none" stroke="#333" stroke-width="0.8"/>
<text class="n" x="217.2" y="258.1">2+</text>
<text class="n" x="338.8" y="269.1">2+</text>
<text class="n" x="413.2" y="267.1">1</text>
<text class="n" x="555.2" y="269.1">3+</text>
<text class="n" x="646.2" y="268.1">2+</text>
<text class="n" x="763.2" y="257.1">2+</text>
<text class="n" x="854.8" y="264.85">2</text>
<text class="n" x="449.2" y="297.1">1+</text>
<text class="n" x="230.2" y="353.1">1</text>
<text class="n" x="393.2" y="353.6">1</text>
<text class="n" x="585.2" y="353.6">1</text>
<text class="n" x="652.2" y="324.1">1</text>
<text class="n" x="845.2" y="322.1">2+</text>
<text class="n" x="330.2" y="326.6">1</text>
<text class="n" x="125.7" y="264.05">2</text>
<text class="n" x="137.2" y="359.9">2+</text>
<text class="n" x="195.2" y="435.1">1</text>
<text class="n" x="162.2" y="488.1">2</text>
<text class="n" x="196.2" y="552.85">1+</text>
<text class="n" x="196.2" y="590.6">1+</text>
<text class="n" x="133" y="585.8">2+</text>
<text class="n" x="130.7" y="730.05">1+</text>
<text class="n" x="156.2" y="795.6">3</text>
<text class="n" x="195.2" y="688.35">1+</text>
<text class="n" x="216.7" y="781.3">2+</text>
<text class="n" x="777.9" y="397.8">1</text>
<text class="n" x="787.6" y="436.15">1</text>
<text class="n" x="819.2" y="488.5">2</text>
<text class="n" x="852.2" y="548.1">2+</text>
<text class="n" x="786.2" y="554.2">1+</text>
<text class="n" x="786.2" y="590.6">1+</text>
<text class="n" x="785.9" y="689">1+</text>
<text class="n" x="784.7" y="747.7">2+</text>
<text class="n" x="849.2" y="755.35">2+</text>
<text class="n" x="820.1" y="802.15">2</text>
<text class="a" x="108.0" y="244.0">2,0</text>
<text class="a" x="126.0" y="262.0">16,4</text>
<text class="a" x="134.0" y="211.0">30,8</text>
<text class="a" x="216.0" y="243.0">14,2</text>
<text class="a" x="229.0" y="250.0">28,6</text>
<text class="a" x="197.0" y="289.0">12,0</text>
<text class="a" x="243.0" y="224.5">26,4</text>
<text class="a" x="151.0" y="344.5">10,8</text>
<text class="a" x="115.5" y="365.0">24,2</text>
<text class="a" x="226.0" y="362.5">8,6</text>
<text class="a" x="306.8" y="269.5">22,0</text>
<text class="a" x="366.0" y="264.5">6,4</text>
<text class="a" x="295.5" y="290.0">20,8</text>
<text class="a" x="423.5" y="250.0">4,2</text>
<text class="a" x="408.0" y="292.0">18,6</text>
<text class="a" x="478.5" y="297.0">2,0</text>
<text class="a" x="513.0" y="285.0">16,4</text>
<text class="a" x="351.0" y="300.0">30,8</text>
<text class="a" x="341.8" y="334.5">14,2</text>
<text class="a" x="422.0" y="337.0">28,6</text>
<text class="a" x="298.0" y="312.5">12,0</text>
<text class="a" x="486.0" y="212.5">26,4</text>
<text class="a" x="348.0" y="377.0">10,8</text>
<text class="a" x="578.5" y="260.8">24,2</text>
<text class="a" x="553.0" y="250.0">8,6</text>
<text class="a" x="588.5" y="300.0">22,0</text>
<text class="a" x="575.5" y="334.5">6,4</text>
<text class="a" x="646.0" y="262.0">20,8</text>
<text class="a" x="640.5" y="250.0">4,2</text>
<text class="a" x="671.0" y="280.0">18,6</text>
<text class="a" x="641.8" y="310.8">2,0</text>
<text class="a" x="671.0" y="344.5">16,4</text>
<text class="a" x="744.0" y="247.5">30,8</text>
<text class="a" x="781.0" y="280.0">14,2</text>
<text class="a" x="683.0" y="224.5">28,6</text>
<text class="a" x="568.5" y="374.5">12,0</text>
<text class="a" x="768.0" y="360.0">26,4</text>
<text class="a" x="798.4" y="239.8">10,8</text>
<text class="a" x="766.0" y="293.0">24,2</text>
<text class="a" x="863.0" y="255.4">8,6</text>
<text class="a" x="865.0" y="261.4">22,0</text>
<text class="a" x="856.0" y="198.4">6,4</text>
<text class="a" x="754.0" y="301.0">20,8</text>
<text class="a" x="906.0" y="321.0">4,2</text>
<text class="a" x="122.8" y="371.6">18,6</text>
<text class="a" x="215.6" y="371.6">2,0</text>
<text class="a" x="158.0" y="429.8">16,4</text>
<text class="a" x="104.5" y="432.0">30,8</text>
<text class="a" x="151.4" y="472.8">14,2</text>
<text class="a" x="250.8" y="470.6">28,6</text>
<text class="a" x="155.8" y="522.2">12,0</text>
<text class="a" x="204.6" y="526.6">26,4</text>
<text class="a" x="191.0" y="527.8">10,8</text>
<text class="a" x="147.4" y="556.4">24,2</text>
<text class="a" x="129.4" y="569.0">8,6</text>
<text class="a" x="132.0" y="604.4">22,0</text>
<text class="a" x="162.4" y="625.4">6,4</text>
<text class="a" x="206.8" y="599.0">20,8</text>
<text class="a" x="191.0" y="630.8">4,2</text>
<text class="a" x="140.8" y="692.4">18,6</text>
<text class="a" x="114.0" y="715.6">2,0</text>
<text class="a" x="217.8" y="669.4">16,4</text>
<text class="a" x="171.2" y="696.8">30,8</text>
<text class="a" x="92.4" y="747.4">14,2</text>
<text class="a" x="236.0" y="737.6">28,6</text>
<text class="a" x="140.8" y="727.0">12,0</text>
<text class="a" x="158.0" y="781.0">26,4</text>
<text class="a" x="217.8" y="796.4">10,8</text>
<text class="a" x="197.6" y="801.0">24,2</text>
<text class="a" x="176.0" y="841.6">8,6</text>
<text class="a" x="87.6" y="858.0">22,0</text>
<text class="a" x="792.0" y="383.6">6,4</text>
<text class="a" x="809.2" y="373.8">20,8</text>
<text class="a" x="869.0" y="371.6">4,2</text>
<text class="a" x="826.8" y="423.2">18,6</text>
<text class="a" x="814.0" y="489.2">2,0</text>
<text class="a" x="831.2" y="477.2">16,4</text>
<text class="a" x="844.8" y="494.8">30,8</text>
<text class="a" x="776.2" y="531.0">14,2</text>
<text class="a" x="785.4" y="528.8">28,6</text>
<text class="a" x="890.6" y="541.0">12,0</text>
<text class="a" x="875.6" y="577.0">26,4</text>
<text class="a" x="846.6" y="613.2">10,8</text>
<text class="a" x="792.0" y="613.2">24,2</text>
<text class="a" x="787.2" y="614.4">8,6</text>
<text class="a" x="829.4" y="656.2">22,0</text>
<text class="a" x="785.0" y="677.0">6,4</text>
<text class="a" x="831.6" y="723.2">20,8</text>
<text class="a" x="846.6" y="711.2">4,2</text>
<text class="a" x="844.8" y="739.8">18,6</text>
<text class="a" x="738.8" y="716.6">2,0</text>
<text class="a" x="917.4" y="743.0">16,4</text>
<text class="a" x="782.8" y="755.8">30,8</text>
<text class="a" x="833.8" y="766.8">14,2</text>
<text class="a" x="785.0" y="814.0">28,6</text>
<text class="a" x="858.0" y="833.8">12,0</text>
<text class="a" x="820.2" y="839.4">26,4</text>
<text class="a" x="866.8" y="758.0">10,8</text>
<text class="a" x="737.7" y="754.6">24,2</text>
<text class="nt" x="168.6" y="280.6" textLength="8.8" lengthAdjust="spacingAndGlyphs">№10</text>
<text class="nt" x="212.6" y="280.6" textLength="8.8" lengthAdjust="spacingAndGlyphs">№23</text>
<text class="nt" x="326.6" y="280.6" textLength="8.8" lengthAdjust="spacingAndGlyphs">№36</text>
<text class="nt" x="416.6" y="280.6" textLength="8.8" lengthAdjust="spacingAndGlyphs">№49</text>
<text class="nt" x="432.6" y="296.6" textLength="6.8" lengthAdjust="spacingAndGlyphs">№62</text>
<text class="nt" x="340.6" y="311.6" textLength="8.8" lengthAdjust="spacingAndGlyphs">№75</text>
<text class="nt" x="408.1" y="311.6" textLength="7.3" lengthAdjust="spacingAndGlyphs">№88</text>
<text class="nt" x="660.6" y="279.6" textLength="8.8" lengthAdjust="spacingAndGlyphs">№101</text>
<text class="nt" x="570.6" y="298.6" textLength="9.8" lengthAdjust="spacingAndGlyphs">№114</text>
<text class="nt" x="580.6" y="310.6" textLength="8.8" lengthAdjust="spacingAndGlyphs">№127</text>
<text class="nt" x="649.6" y="310.6" textLength="7.3" lengthAdjust="spacingAndGlyphs">№20</text>
<text class="nt" x="763.1" y="279.6" textLength="10.3" lengthAdjust="spacingAndGlyphs">№33</text>
<text class="nt" x="166.2" y="380.6" textLength="12.0" lengthAdjust="spacingAndGlyphs">№46</text>
<text class="nt" x="164.0" y="515.9" textLength="7.6" lengthAdjust="spacingAndGlyphs">№59</text>
<text class="nt" x="178.3" y="528.0" textLength="9.8" lengthAdjust="spacingAndGlyphs">№72</text>
<text class="nt" x="153.0" y="588.2" textLength="9.8" lengthAdjust="spacingAndGlyphs">№85</text>
<text class="nt" x="180.6" y="619.0" textLength="8.8" lengthAdjust="spacingAndGlyphs">№98</text>
<text class="nt" x="180.6" y="692.6" textLength="8.8" lengthAdjust="spacingAndGlyphs">№111</text>
<text class="nt" x="153.0" y="730.1" textLength="9.8" lengthAdjust="spacingAndGlyphs">№124</text>
<text class="nt" x="180.6" y="769.2" textLength="8.8" lengthAdjust="spacingAndGlyphs">№17</text>
<text class="nt" x="162.9" y="779.1" textLength="8.7" lengthAdjust="spacingAndGlyphs">№30</text>
<text class="nt" x="824.0" y="512.6" textLength="9.8" lengthAdjust="spacingAndGlyphs">№43</text>
<text class="nt" x="805.3" y="528.0" textLength="8.7" lengthAdjust="spacingAndGlyphs">№56</text>
<text class="nt" x="817.4" y="382.8" textLength="9.8" lengthAdjust="spacingAndGlyphs">№69</text>
<text class="nt" x="830.6" y="588.2" textLength="8.8" lengthAdjust="spacingAndGlyphs">№82</text>
<text class="nt" x="806.4" y="619.0" textLength="8.7" lengthAdjust="spacingAndGlyphs">№95</text>
<text class="nt" x="806.4" y="691.6" textLength="8.7" lengthAdjust="spacingAndGlyphs">№108</text>
<text class="nt" x="832.8" y="743.3" textLength="8.6" lengthAdjust="spacingAndGlyphs">№121</text>
<text class="nt" x="833.9" y="743.9" textLength="9.8" lengthAdjust="spacingAndGlyphs">№14</text>
<text class="nt" x="806.4" y="768.1" textLength="9.8" lengthAdjust="spacingAndGlyphs">№27</text>
<text class="nt" x="824.0" y="782.4" textLength="10.9" lengthAdjust="spacingAndGlyphs">№40</text>
<text class="nt" x="185.6" y="368.6" textLength="8.8" lengthAdjust="spacingAndGlyphs">№53</text>
<text class="nt" x="159.3" y="358.6" textLength="10.7" lengthAdjust="spacingAndGlyphs">№66</text>
<text class="nt" x="801.1" y="367.6" textLength="10.3" lengthAdjust="spacingAndGlyphs">№79</text>
<text class="nt" x="827.6" y="356.6" textLength="11.8" lengthAdjust="spacingAndGlyphs">№92</text>
<text class="nt" x="819.6" y="384.1" textLength="9.8" lengthAdjust="spacingAndGlyphs">№105</text>
<text class="nt" x="168.6" y="381.6" textLength="9.8" lengthAdjust="spacingAndGlyphs">№118</text>
</g>
<!-- highlighted apartment -->
<path d="M76.5 200 H133.5 V188.5 H172.8 V200 H171.7 V259.5 H180.7 V281.7 H165 V299.7 H76.5 Z" fill="#9AD5DE" stroke="#3E8F98" stroke-width="1.5" style="mix-blend-mode:multiply"/>
</svg>
</body></html>
